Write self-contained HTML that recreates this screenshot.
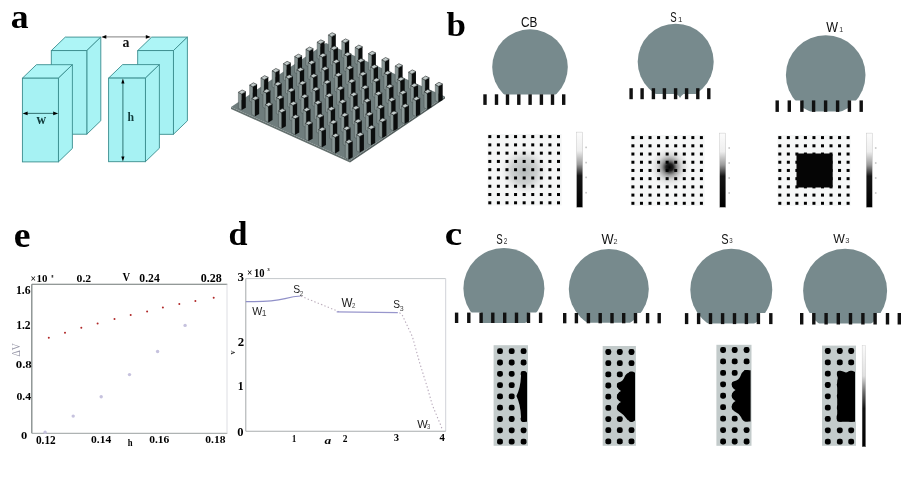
<!DOCTYPE html>
<html><head><meta charset="utf-8"><style>
html,body{margin:0;padding:0;background:#fff;}
svg{display:block;will-change:transform;}
</style></head><body>
<svg width="908" height="492" viewBox="0 0 908 492">
<rect width="908" height="492" fill="#fff"/>
<text transform="translate(10.78,27.99) scale(1.06,1)" font-family="'Liberation Serif', serif" font-size="33.68" font-weight="bold" font-style="normal" fill="#000">a</text>
<text transform="translate(446.46,36.28) scale(1.01,1)" font-family="'Liberation Serif', serif" font-size="34.57" font-weight="bold" font-style="normal" fill="#000">b</text>
<text transform="translate(444.82,245.48) scale(1.13,1)" font-family="'Liberation Serif', serif" font-size="34.74" font-weight="bold" font-style="normal" fill="#000">c</text>
<text transform="translate(228.40,244.59) scale(1.01,1)" font-family="'Liberation Serif', serif" font-size="33.86" font-weight="bold" font-style="normal" fill="#000">d</text>
<text transform="translate(13.72,246.58) scale(1.05,1)" font-family="'Liberation Serif', serif" font-size="36.00" font-weight="bold" font-style="normal" fill="#000">e</text>
<polygon points="51.3,50.6 65.3,37.1 100.8,37.1 86.8,50.6" fill="#adf5f6" stroke="#3a8c8d" stroke-width="0.9" stroke-linejoin="round"/>
<polygon points="86.8,50.6 100.8,37.1 100.8,120.7 86.8,134.2" fill="#a8f3f4" stroke="#3a8c8d" stroke-width="0.9" stroke-linejoin="round"/>
<rect x="51.3" y="50.6" width="35.5" height="83.6" fill="#a6f2f3" stroke="#3a8c8d" stroke-width="0.9"/>
<polygon points="137.7,50.6 151.7,37.1 187.4,37.1 173.4,50.6" fill="#adf5f6" stroke="#3a8c8d" stroke-width="0.9" stroke-linejoin="round"/>
<polygon points="173.4,50.6 187.4,37.1 187.4,120.8 173.4,134.3" fill="#a8f3f4" stroke="#3a8c8d" stroke-width="0.9" stroke-linejoin="round"/>
<rect x="137.7" y="50.6" width="35.7" height="83.7" fill="#a6f2f3" stroke="#3a8c8d" stroke-width="0.9"/>
<polygon points="22.4,78.2 36.4,64.7 72.4,64.7 58.4,78.2" fill="#adf5f6" stroke="#3a8c8d" stroke-width="0.9" stroke-linejoin="round"/>
<polygon points="58.4,78.2 72.4,64.7 72.4,148.4 58.4,161.9" fill="#a8f3f4" stroke="#3a8c8d" stroke-width="0.9" stroke-linejoin="round"/>
<rect x="22.4" y="78.2" width="36.0" height="83.7" fill="#a6f2f3" stroke="#3a8c8d" stroke-width="0.9"/>
<polygon points="108.6,78.1 122.6,64.6 159.4,64.6 145.4,78.1" fill="#adf5f6" stroke="#3a8c8d" stroke-width="0.9" stroke-linejoin="round"/>
<polygon points="145.4,78.1 159.4,64.6 159.4,148.2 145.4,161.7" fill="#a8f3f4" stroke="#3a8c8d" stroke-width="0.9" stroke-linejoin="round"/>
<rect x="108.6" y="78.1" width="36.8" height="83.6" fill="#a6f2f3" stroke="#3a8c8d" stroke-width="0.9"/>
<line x1="25.6" y1="113.4" x2="55.2" y2="113.4" stroke="#3a7a7a" stroke-width="1.1"/>
<polygon points="22.6,113.4 27.6,111.6 27.6,115.2" fill="#000"/>
<polygon points="58.2,113.4 53.2,111.6 53.2,115.2" fill="#000"/>
<line x1="104.3" y1="36.9" x2="147.8" y2="36.9" stroke="#9a9a9a" stroke-width="1.1"/>
<polygon points="101.3,36.9 106.3,35.1 106.3,38.7" fill="#000"/>
<polygon points="150.8,36.9 145.8,35.1 145.8,38.7" fill="#000"/>
<line x1="122.9" y1="81.6" x2="122.9" y2="158.4" stroke="#3a8080" stroke-width="1.1"/>
<polygon points="122.9,78.6 121.3,83.6 124.5,83.6" fill="#000"/>
<polygon points="122.9,161.4 121.3,156.4 124.5,156.4" fill="#000"/>
<text transform="translate(36.50,124.41) scale(0.96,1)" font-family="'Liberation Serif', serif" font-size="13.84" font-weight="bold" font-style="normal" fill="#123c3c">w</text>
<text transform="translate(122.47,47.30) scale(0.9,1)" font-family="'Liberation Serif', serif" font-size="15.37" font-weight="bold" font-style="normal" fill="#111">a</text>
<text transform="translate(127.51,120.90) scale(0.89,1)" font-family="'Liberation Serif', serif" font-size="13.26" font-weight="bold" font-style="normal" fill="#123c3c">h</text>
<polygon points="231.0,107.0 350.0,160.5 350.0,162.5 231.0,109.0" fill="#65716f"/>
<polygon points="350.0,160.5 445.0,96.5 445.0,98.5 350.0,162.5" fill="#55605f"/>
<polygon points="326.00,43.00 445.0,96.5 350.0,160.5 231.0,107.0" fill="#6f7d7d"/>
<polygon points="328.40,35.00 331.60,36.70 331.60,52.70 328.40,51.00" fill="#8a9796" stroke="#3a4443" stroke-width="0.4"/>
<polygon points="331.60,36.70 335.80,34.40 335.80,50.40 331.60,52.70" fill="#0b0d0d"/>
<polygon points="332.10,32.70 335.80,34.40 331.60,36.70 328.40,35.00" fill="#c3cccb" stroke="#1e2424" stroke-width="0.6"/>
<polygon points="317.15,42.16 320.35,43.86 320.35,59.86 317.15,58.16" fill="#8a9796" stroke="#3a4443" stroke-width="0.4"/>
<polygon points="320.35,43.86 324.55,41.56 324.55,57.56 320.35,59.86" fill="#0b0d0d"/>
<polygon points="320.85,39.86 324.55,41.56 320.35,43.86 317.15,42.16" fill="#c3cccb" stroke="#1e2424" stroke-width="0.6"/>
<polygon points="341.76,41.20 344.96,42.90 344.96,58.90 341.76,57.20" fill="#8a9796" stroke="#3a4443" stroke-width="0.4"/>
<polygon points="344.96,42.90 349.16,40.60 349.16,56.60 344.96,58.90" fill="#0b0d0d"/>
<polygon points="345.46,38.90 349.16,40.60 344.96,42.90 341.76,41.20" fill="#c3cccb" stroke="#1e2424" stroke-width="0.6"/>
<polygon points="305.90,49.32 309.10,51.02 309.10,67.02 305.90,65.32" fill="#8a9796" stroke="#3a4443" stroke-width="0.4"/>
<polygon points="309.10,51.02 313.30,48.72 313.30,64.72 309.10,67.02" fill="#0b0d0d"/>
<polygon points="309.60,47.02 313.30,48.72 309.10,51.02 305.90,49.32" fill="#c3cccb" stroke="#1e2424" stroke-width="0.6"/>
<polygon points="330.51,48.36 333.71,50.06 333.71,66.06 330.51,64.36" fill="#8a9796" stroke="#3a4443" stroke-width="0.4"/>
<polygon points="333.71,50.06 337.91,47.76 337.91,63.76 333.71,66.06" fill="#0b0d0d"/>
<polygon points="334.21,46.06 337.91,47.76 333.71,50.06 330.51,48.36" fill="#c3cccb" stroke="#1e2424" stroke-width="0.6"/>
<polygon points="355.12,47.40 358.32,49.10 358.32,65.10 355.12,63.40" fill="#8a9796" stroke="#3a4443" stroke-width="0.4"/>
<polygon points="358.32,49.10 362.52,46.80 362.52,62.80 358.32,65.10" fill="#0b0d0d"/>
<polygon points="358.82,45.10 362.52,46.80 358.32,49.10 355.12,47.40" fill="#c3cccb" stroke="#1e2424" stroke-width="0.6"/>
<polygon points="294.65,56.48 297.85,58.18 297.85,74.18 294.65,72.48" fill="#8a9796" stroke="#3a4443" stroke-width="0.4"/>
<polygon points="297.85,58.18 302.05,55.88 302.05,71.88 297.85,74.18" fill="#0b0d0d"/>
<polygon points="298.35,54.18 302.05,55.88 297.85,58.18 294.65,56.48" fill="#c3cccb" stroke="#1e2424" stroke-width="0.6"/>
<polygon points="319.26,55.52 322.46,57.22 322.46,73.22 319.26,71.52" fill="#8a9796" stroke="#3a4443" stroke-width="0.4"/>
<polygon points="322.46,57.22 326.66,54.92 326.66,70.92 322.46,73.22" fill="#0b0d0d"/>
<polygon points="322.96,53.22 326.66,54.92 322.46,57.22 319.26,55.52" fill="#c3cccb" stroke="#1e2424" stroke-width="0.6"/>
<polygon points="343.87,54.56 347.07,56.26 347.07,72.26 343.87,70.56" fill="#8a9796" stroke="#3a4443" stroke-width="0.4"/>
<polygon points="347.07,56.26 351.27,53.96 351.27,69.96 347.07,72.26" fill="#0b0d0d"/>
<polygon points="347.57,52.26 351.27,53.96 347.07,56.26 343.87,54.56" fill="#c3cccb" stroke="#1e2424" stroke-width="0.6"/>
<polygon points="368.48,53.60 371.68,55.30 371.68,71.30 368.48,69.60" fill="#8a9796" stroke="#3a4443" stroke-width="0.4"/>
<polygon points="371.68,55.30 375.88,53.00 375.88,69.00 371.68,71.30" fill="#0b0d0d"/>
<polygon points="372.18,51.30 375.88,53.00 371.68,55.30 368.48,53.60" fill="#c3cccb" stroke="#1e2424" stroke-width="0.6"/>
<polygon points="283.40,63.64 286.60,65.34 286.60,81.34 283.40,79.64" fill="#8a9796" stroke="#3a4443" stroke-width="0.4"/>
<polygon points="286.60,65.34 290.80,63.04 290.80,79.04 286.60,81.34" fill="#0b0d0d"/>
<polygon points="287.10,61.34 290.80,63.04 286.60,65.34 283.40,63.64" fill="#c3cccb" stroke="#1e2424" stroke-width="0.6"/>
<polygon points="308.01,62.68 311.21,64.38 311.21,80.38 308.01,78.68" fill="#8a9796" stroke="#3a4443" stroke-width="0.4"/>
<polygon points="311.21,64.38 315.41,62.08 315.41,78.08 311.21,80.38" fill="#0b0d0d"/>
<polygon points="311.71,60.38 315.41,62.08 311.21,64.38 308.01,62.68" fill="#c3cccb" stroke="#1e2424" stroke-width="0.6"/>
<polygon points="332.62,61.72 335.82,63.42 335.82,79.42 332.62,77.72" fill="#8a9796" stroke="#3a4443" stroke-width="0.4"/>
<polygon points="335.82,63.42 340.02,61.12 340.02,77.12 335.82,79.42" fill="#0b0d0d"/>
<polygon points="336.32,59.42 340.02,61.12 335.82,63.42 332.62,61.72" fill="#c3cccb" stroke="#1e2424" stroke-width="0.6"/>
<polygon points="357.23,60.76 360.43,62.46 360.43,78.46 357.23,76.76" fill="#8a9796" stroke="#3a4443" stroke-width="0.4"/>
<polygon points="360.43,62.46 364.63,60.16 364.63,76.16 360.43,78.46" fill="#0b0d0d"/>
<polygon points="360.93,58.46 364.63,60.16 360.43,62.46 357.23,60.76" fill="#c3cccb" stroke="#1e2424" stroke-width="0.6"/>
<polygon points="381.84,59.80 385.04,61.50 385.04,77.50 381.84,75.80" fill="#8a9796" stroke="#3a4443" stroke-width="0.4"/>
<polygon points="385.04,61.50 389.24,59.20 389.24,75.20 385.04,77.50" fill="#0b0d0d"/>
<polygon points="385.54,57.50 389.24,59.20 385.04,61.50 381.84,59.80" fill="#c3cccb" stroke="#1e2424" stroke-width="0.6"/>
<polygon points="272.15,70.80 275.35,72.50 275.35,88.50 272.15,86.80" fill="#8a9796" stroke="#3a4443" stroke-width="0.4"/>
<polygon points="275.35,72.50 279.55,70.20 279.55,86.20 275.35,88.50" fill="#0b0d0d"/>
<polygon points="275.85,68.50 279.55,70.20 275.35,72.50 272.15,70.80" fill="#c3cccb" stroke="#1e2424" stroke-width="0.6"/>
<polygon points="296.76,69.84 299.96,71.54 299.96,87.54 296.76,85.84" fill="#8a9796" stroke="#3a4443" stroke-width="0.4"/>
<polygon points="299.96,71.54 304.16,69.24 304.16,85.24 299.96,87.54" fill="#0b0d0d"/>
<polygon points="300.46,67.54 304.16,69.24 299.96,71.54 296.76,69.84" fill="#c3cccb" stroke="#1e2424" stroke-width="0.6"/>
<polygon points="321.37,68.88 324.57,70.58 324.57,86.58 321.37,84.88" fill="#8a9796" stroke="#3a4443" stroke-width="0.4"/>
<polygon points="324.57,70.58 328.77,68.28 328.77,84.28 324.57,86.58" fill="#0b0d0d"/>
<polygon points="325.07,66.58 328.77,68.28 324.57,70.58 321.37,68.88" fill="#c3cccb" stroke="#1e2424" stroke-width="0.6"/>
<polygon points="345.98,67.92 349.18,69.62 349.18,85.62 345.98,83.92" fill="#8a9796" stroke="#3a4443" stroke-width="0.4"/>
<polygon points="349.18,69.62 353.38,67.32 353.38,83.32 349.18,85.62" fill="#0b0d0d"/>
<polygon points="349.68,65.62 353.38,67.32 349.18,69.62 345.98,67.92" fill="#c3cccb" stroke="#1e2424" stroke-width="0.6"/>
<polygon points="370.59,66.96 373.79,68.66 373.79,84.66 370.59,82.96" fill="#8a9796" stroke="#3a4443" stroke-width="0.4"/>
<polygon points="373.79,68.66 377.99,66.36 377.99,82.36 373.79,84.66" fill="#0b0d0d"/>
<polygon points="374.29,64.66 377.99,66.36 373.79,68.66 370.59,66.96" fill="#c3cccb" stroke="#1e2424" stroke-width="0.6"/>
<polygon points="395.20,66.00 398.40,67.70 398.40,83.70 395.20,82.00" fill="#8a9796" stroke="#3a4443" stroke-width="0.4"/>
<polygon points="398.40,67.70 402.60,65.40 402.60,81.40 398.40,83.70" fill="#0b0d0d"/>
<polygon points="398.90,63.70 402.60,65.40 398.40,67.70 395.20,66.00" fill="#c3cccb" stroke="#1e2424" stroke-width="0.6"/>
<polygon points="260.90,77.96 264.10,79.66 264.10,95.66 260.90,93.96" fill="#8a9796" stroke="#3a4443" stroke-width="0.4"/>
<polygon points="264.10,79.66 268.30,77.36 268.30,93.36 264.10,95.66" fill="#0b0d0d"/>
<polygon points="264.60,75.66 268.30,77.36 264.10,79.66 260.90,77.96" fill="#c3cccb" stroke="#1e2424" stroke-width="0.6"/>
<polygon points="285.51,77.00 288.71,78.70 288.71,94.70 285.51,93.00" fill="#8a9796" stroke="#3a4443" stroke-width="0.4"/>
<polygon points="288.71,78.70 292.91,76.40 292.91,92.40 288.71,94.70" fill="#0b0d0d"/>
<polygon points="289.21,74.70 292.91,76.40 288.71,78.70 285.51,77.00" fill="#c3cccb" stroke="#1e2424" stroke-width="0.6"/>
<polygon points="310.12,76.04 313.32,77.74 313.32,93.74 310.12,92.04" fill="#8a9796" stroke="#3a4443" stroke-width="0.4"/>
<polygon points="313.32,77.74 317.52,75.44 317.52,91.44 313.32,93.74" fill="#0b0d0d"/>
<polygon points="313.82,73.74 317.52,75.44 313.32,77.74 310.12,76.04" fill="#c3cccb" stroke="#1e2424" stroke-width="0.6"/>
<polygon points="334.73,75.08 337.93,76.78 337.93,92.78 334.73,91.08" fill="#8a9796" stroke="#3a4443" stroke-width="0.4"/>
<polygon points="337.93,76.78 342.13,74.48 342.13,90.48 337.93,92.78" fill="#0b0d0d"/>
<polygon points="338.43,72.78 342.13,74.48 337.93,76.78 334.73,75.08" fill="#c3cccb" stroke="#1e2424" stroke-width="0.6"/>
<polygon points="359.34,74.12 362.54,75.82 362.54,91.82 359.34,90.12" fill="#8a9796" stroke="#3a4443" stroke-width="0.4"/>
<polygon points="362.54,75.82 366.74,73.52 366.74,89.52 362.54,91.82" fill="#0b0d0d"/>
<polygon points="363.04,71.82 366.74,73.52 362.54,75.82 359.34,74.12" fill="#c3cccb" stroke="#1e2424" stroke-width="0.6"/>
<polygon points="383.95,73.16 387.15,74.86 387.15,90.86 383.95,89.16" fill="#8a9796" stroke="#3a4443" stroke-width="0.4"/>
<polygon points="387.15,74.86 391.35,72.56 391.35,88.56 387.15,90.86" fill="#0b0d0d"/>
<polygon points="387.65,70.86 391.35,72.56 387.15,74.86 383.95,73.16" fill="#c3cccb" stroke="#1e2424" stroke-width="0.6"/>
<polygon points="408.56,72.20 411.76,73.90 411.76,89.90 408.56,88.20" fill="#8a9796" stroke="#3a4443" stroke-width="0.4"/>
<polygon points="411.76,73.90 415.96,71.60 415.96,87.60 411.76,89.90" fill="#0b0d0d"/>
<polygon points="412.26,69.90 415.96,71.60 411.76,73.90 408.56,72.20" fill="#c3cccb" stroke="#1e2424" stroke-width="0.6"/>
<polygon points="249.65,85.12 252.85,86.82 252.85,102.82 249.65,101.12" fill="#8a9796" stroke="#3a4443" stroke-width="0.4"/>
<polygon points="252.85,86.82 257.05,84.52 257.05,100.52 252.85,102.82" fill="#0b0d0d"/>
<polygon points="253.35,82.82 257.05,84.52 252.85,86.82 249.65,85.12" fill="#c3cccb" stroke="#1e2424" stroke-width="0.6"/>
<polygon points="274.26,84.16 277.46,85.86 277.46,101.86 274.26,100.16" fill="#8a9796" stroke="#3a4443" stroke-width="0.4"/>
<polygon points="277.46,85.86 281.66,83.56 281.66,99.56 277.46,101.86" fill="#0b0d0d"/>
<polygon points="277.96,81.86 281.66,83.56 277.46,85.86 274.26,84.16" fill="#c3cccb" stroke="#1e2424" stroke-width="0.6"/>
<polygon points="298.87,83.20 302.07,84.90 302.07,100.90 298.87,99.20" fill="#8a9796" stroke="#3a4443" stroke-width="0.4"/>
<polygon points="302.07,84.90 306.27,82.60 306.27,98.60 302.07,100.90" fill="#0b0d0d"/>
<polygon points="302.57,80.90 306.27,82.60 302.07,84.90 298.87,83.20" fill="#c3cccb" stroke="#1e2424" stroke-width="0.6"/>
<polygon points="323.48,82.24 326.68,83.94 326.68,99.94 323.48,98.24" fill="#8a9796" stroke="#3a4443" stroke-width="0.4"/>
<polygon points="326.68,83.94 330.88,81.64 330.88,97.64 326.68,99.94" fill="#0b0d0d"/>
<polygon points="327.18,79.94 330.88,81.64 326.68,83.94 323.48,82.24" fill="#c3cccb" stroke="#1e2424" stroke-width="0.6"/>
<polygon points="348.09,81.28 351.29,82.98 351.29,98.98 348.09,97.28" fill="#8a9796" stroke="#3a4443" stroke-width="0.4"/>
<polygon points="351.29,82.98 355.49,80.68 355.49,96.68 351.29,98.98" fill="#0b0d0d"/>
<polygon points="351.79,78.98 355.49,80.68 351.29,82.98 348.09,81.28" fill="#c3cccb" stroke="#1e2424" stroke-width="0.6"/>
<polygon points="372.70,80.32 375.90,82.02 375.90,98.02 372.70,96.32" fill="#8a9796" stroke="#3a4443" stroke-width="0.4"/>
<polygon points="375.90,82.02 380.10,79.72 380.10,95.72 375.90,98.02" fill="#0b0d0d"/>
<polygon points="376.40,78.02 380.10,79.72 375.90,82.02 372.70,80.32" fill="#c3cccb" stroke="#1e2424" stroke-width="0.6"/>
<polygon points="397.31,79.36 400.51,81.06 400.51,97.06 397.31,95.36" fill="#8a9796" stroke="#3a4443" stroke-width="0.4"/>
<polygon points="400.51,81.06 404.71,78.76 404.71,94.76 400.51,97.06" fill="#0b0d0d"/>
<polygon points="401.01,77.06 404.71,78.76 400.51,81.06 397.31,79.36" fill="#c3cccb" stroke="#1e2424" stroke-width="0.6"/>
<polygon points="421.92,78.40 425.12,80.10 425.12,96.10 421.92,94.40" fill="#8a9796" stroke="#3a4443" stroke-width="0.4"/>
<polygon points="425.12,80.10 429.32,77.80 429.32,93.80 425.12,96.10" fill="#0b0d0d"/>
<polygon points="425.62,76.10 429.32,77.80 425.12,80.10 421.92,78.40" fill="#c3cccb" stroke="#1e2424" stroke-width="0.6"/>
<polygon points="238.40,92.28 241.60,93.98 241.60,109.98 238.40,108.28" fill="#8a9796" stroke="#3a4443" stroke-width="0.4"/>
<polygon points="241.60,93.98 245.80,91.68 245.80,107.68 241.60,109.98" fill="#0b0d0d"/>
<polygon points="242.10,89.98 245.80,91.68 241.60,93.98 238.40,92.28" fill="#c3cccb" stroke="#1e2424" stroke-width="0.6"/>
<polygon points="263.01,91.32 266.21,93.02 266.21,109.02 263.01,107.32" fill="#8a9796" stroke="#3a4443" stroke-width="0.4"/>
<polygon points="266.21,93.02 270.41,90.72 270.41,106.72 266.21,109.02" fill="#0b0d0d"/>
<polygon points="266.71,89.02 270.41,90.72 266.21,93.02 263.01,91.32" fill="#c3cccb" stroke="#1e2424" stroke-width="0.6"/>
<polygon points="287.62,90.36 290.82,92.06 290.82,108.06 287.62,106.36" fill="#8a9796" stroke="#3a4443" stroke-width="0.4"/>
<polygon points="290.82,92.06 295.02,89.76 295.02,105.76 290.82,108.06" fill="#0b0d0d"/>
<polygon points="291.32,88.06 295.02,89.76 290.82,92.06 287.62,90.36" fill="#c3cccb" stroke="#1e2424" stroke-width="0.6"/>
<polygon points="312.23,89.40 315.43,91.10 315.43,107.10 312.23,105.40" fill="#8a9796" stroke="#3a4443" stroke-width="0.4"/>
<polygon points="315.43,91.10 319.63,88.80 319.63,104.80 315.43,107.10" fill="#0b0d0d"/>
<polygon points="315.93,87.10 319.63,88.80 315.43,91.10 312.23,89.40" fill="#c3cccb" stroke="#1e2424" stroke-width="0.6"/>
<polygon points="336.84,88.44 340.04,90.14 340.04,106.14 336.84,104.44" fill="#8a9796" stroke="#3a4443" stroke-width="0.4"/>
<polygon points="340.04,90.14 344.24,87.84 344.24,103.84 340.04,106.14" fill="#0b0d0d"/>
<polygon points="340.54,86.14 344.24,87.84 340.04,90.14 336.84,88.44" fill="#c3cccb" stroke="#1e2424" stroke-width="0.6"/>
<polygon points="361.45,87.48 364.65,89.18 364.65,105.18 361.45,103.48" fill="#8a9796" stroke="#3a4443" stroke-width="0.4"/>
<polygon points="364.65,89.18 368.85,86.88 368.85,102.88 364.65,105.18" fill="#0b0d0d"/>
<polygon points="365.15,85.18 368.85,86.88 364.65,89.18 361.45,87.48" fill="#c3cccb" stroke="#1e2424" stroke-width="0.6"/>
<polygon points="386.06,86.52 389.26,88.22 389.26,104.22 386.06,102.52" fill="#8a9796" stroke="#3a4443" stroke-width="0.4"/>
<polygon points="389.26,88.22 393.46,85.92 393.46,101.92 389.26,104.22" fill="#0b0d0d"/>
<polygon points="389.76,84.22 393.46,85.92 389.26,88.22 386.06,86.52" fill="#c3cccb" stroke="#1e2424" stroke-width="0.6"/>
<polygon points="410.67,85.56 413.87,87.26 413.87,103.26 410.67,101.56" fill="#8a9796" stroke="#3a4443" stroke-width="0.4"/>
<polygon points="413.87,87.26 418.07,84.96 418.07,100.96 413.87,103.26" fill="#0b0d0d"/>
<polygon points="414.37,83.26 418.07,84.96 413.87,87.26 410.67,85.56" fill="#c3cccb" stroke="#1e2424" stroke-width="0.6"/>
<polygon points="435.28,84.60 438.48,86.30 438.48,102.30 435.28,100.60" fill="#8a9796" stroke="#3a4443" stroke-width="0.4"/>
<polygon points="438.48,86.30 442.68,84.00 442.68,100.00 438.48,102.30" fill="#0b0d0d"/>
<polygon points="438.98,82.30 442.68,84.00 438.48,86.30 435.28,84.60" fill="#c3cccb" stroke="#1e2424" stroke-width="0.6"/>
<polygon points="251.76,98.48 254.96,100.18 254.96,116.18 251.76,114.48" fill="#8a9796" stroke="#3a4443" stroke-width="0.4"/>
<polygon points="254.96,100.18 259.16,97.88 259.16,113.88 254.96,116.18" fill="#0b0d0d"/>
<polygon points="255.46,96.18 259.16,97.88 254.96,100.18 251.76,98.48" fill="#c3cccb" stroke="#1e2424" stroke-width="0.6"/>
<polygon points="276.37,97.52 279.57,99.22 279.57,115.22 276.37,113.52" fill="#8a9796" stroke="#3a4443" stroke-width="0.4"/>
<polygon points="279.57,99.22 283.77,96.92 283.77,112.92 279.57,115.22" fill="#0b0d0d"/>
<polygon points="280.07,95.22 283.77,96.92 279.57,99.22 276.37,97.52" fill="#c3cccb" stroke="#1e2424" stroke-width="0.6"/>
<polygon points="300.98,96.56 304.18,98.26 304.18,114.26 300.98,112.56" fill="#8a9796" stroke="#3a4443" stroke-width="0.4"/>
<polygon points="304.18,98.26 308.38,95.96 308.38,111.96 304.18,114.26" fill="#0b0d0d"/>
<polygon points="304.68,94.26 308.38,95.96 304.18,98.26 300.98,96.56" fill="#c3cccb" stroke="#1e2424" stroke-width="0.6"/>
<polygon points="325.59,95.60 328.79,97.30 328.79,113.30 325.59,111.60" fill="#8a9796" stroke="#3a4443" stroke-width="0.4"/>
<polygon points="328.79,97.30 332.99,95.00 332.99,111.00 328.79,113.30" fill="#0b0d0d"/>
<polygon points="329.29,93.30 332.99,95.00 328.79,97.30 325.59,95.60" fill="#c3cccb" stroke="#1e2424" stroke-width="0.6"/>
<polygon points="350.20,94.64 353.40,96.34 353.40,112.34 350.20,110.64" fill="#8a9796" stroke="#3a4443" stroke-width="0.4"/>
<polygon points="353.40,96.34 357.60,94.04 357.60,110.04 353.40,112.34" fill="#0b0d0d"/>
<polygon points="353.90,92.34 357.60,94.04 353.40,96.34 350.20,94.64" fill="#c3cccb" stroke="#1e2424" stroke-width="0.6"/>
<polygon points="374.81,93.68 378.01,95.38 378.01,111.38 374.81,109.68" fill="#8a9796" stroke="#3a4443" stroke-width="0.4"/>
<polygon points="378.01,95.38 382.21,93.08 382.21,109.08 378.01,111.38" fill="#0b0d0d"/>
<polygon points="378.51,91.38 382.21,93.08 378.01,95.38 374.81,93.68" fill="#c3cccb" stroke="#1e2424" stroke-width="0.6"/>
<polygon points="399.42,92.72 402.62,94.42 402.62,110.42 399.42,108.72" fill="#8a9796" stroke="#3a4443" stroke-width="0.4"/>
<polygon points="402.62,94.42 406.82,92.12 406.82,108.12 402.62,110.42" fill="#0b0d0d"/>
<polygon points="403.12,90.42 406.82,92.12 402.62,94.42 399.42,92.72" fill="#c3cccb" stroke="#1e2424" stroke-width="0.6"/>
<polygon points="424.03,91.76 427.23,93.46 427.23,109.46 424.03,107.76" fill="#8a9796" stroke="#3a4443" stroke-width="0.4"/>
<polygon points="427.23,93.46 431.43,91.16 431.43,107.16 427.23,109.46" fill="#0b0d0d"/>
<polygon points="427.73,89.46 431.43,91.16 427.23,93.46 424.03,91.76" fill="#c3cccb" stroke="#1e2424" stroke-width="0.6"/>
<polygon points="265.12,104.68 268.32,106.38 268.32,122.38 265.12,120.68" fill="#8a9796" stroke="#3a4443" stroke-width="0.4"/>
<polygon points="268.32,106.38 272.52,104.08 272.52,120.08 268.32,122.38" fill="#0b0d0d"/>
<polygon points="268.82,102.38 272.52,104.08 268.32,106.38 265.12,104.68" fill="#c3cccb" stroke="#1e2424" stroke-width="0.6"/>
<polygon points="289.73,103.72 292.93,105.42 292.93,121.42 289.73,119.72" fill="#8a9796" stroke="#3a4443" stroke-width="0.4"/>
<polygon points="292.93,105.42 297.13,103.12 297.13,119.12 292.93,121.42" fill="#0b0d0d"/>
<polygon points="293.43,101.42 297.13,103.12 292.93,105.42 289.73,103.72" fill="#c3cccb" stroke="#1e2424" stroke-width="0.6"/>
<polygon points="314.34,102.76 317.54,104.46 317.54,120.46 314.34,118.76" fill="#8a9796" stroke="#3a4443" stroke-width="0.4"/>
<polygon points="317.54,104.46 321.74,102.16 321.74,118.16 317.54,120.46" fill="#0b0d0d"/>
<polygon points="318.04,100.46 321.74,102.16 317.54,104.46 314.34,102.76" fill="#c3cccb" stroke="#1e2424" stroke-width="0.6"/>
<polygon points="338.95,101.80 342.15,103.50 342.15,119.50 338.95,117.80" fill="#8a9796" stroke="#3a4443" stroke-width="0.4"/>
<polygon points="342.15,103.50 346.35,101.20 346.35,117.20 342.15,119.50" fill="#0b0d0d"/>
<polygon points="342.65,99.50 346.35,101.20 342.15,103.50 338.95,101.80" fill="#c3cccb" stroke="#1e2424" stroke-width="0.6"/>
<polygon points="363.56,100.84 366.76,102.54 366.76,118.54 363.56,116.84" fill="#8a9796" stroke="#3a4443" stroke-width="0.4"/>
<polygon points="366.76,102.54 370.96,100.24 370.96,116.24 366.76,118.54" fill="#0b0d0d"/>
<polygon points="367.26,98.54 370.96,100.24 366.76,102.54 363.56,100.84" fill="#c3cccb" stroke="#1e2424" stroke-width="0.6"/>
<polygon points="388.17,99.88 391.37,101.58 391.37,117.58 388.17,115.88" fill="#8a9796" stroke="#3a4443" stroke-width="0.4"/>
<polygon points="391.37,101.58 395.57,99.28 395.57,115.28 391.37,117.58" fill="#0b0d0d"/>
<polygon points="391.87,97.58 395.57,99.28 391.37,101.58 388.17,99.88" fill="#c3cccb" stroke="#1e2424" stroke-width="0.6"/>
<polygon points="412.78,98.92 415.98,100.62 415.98,116.62 412.78,114.92" fill="#8a9796" stroke="#3a4443" stroke-width="0.4"/>
<polygon points="415.98,100.62 420.18,98.32 420.18,114.32 415.98,116.62" fill="#0b0d0d"/>
<polygon points="416.48,96.62 420.18,98.32 415.98,100.62 412.78,98.92" fill="#c3cccb" stroke="#1e2424" stroke-width="0.6"/>
<polygon points="278.48,110.88 281.68,112.58 281.68,128.58 278.48,126.88" fill="#8a9796" stroke="#3a4443" stroke-width="0.4"/>
<polygon points="281.68,112.58 285.88,110.28 285.88,126.28 281.68,128.58" fill="#0b0d0d"/>
<polygon points="282.18,108.58 285.88,110.28 281.68,112.58 278.48,110.88" fill="#c3cccb" stroke="#1e2424" stroke-width="0.6"/>
<polygon points="303.09,109.92 306.29,111.62 306.29,127.62 303.09,125.92" fill="#8a9796" stroke="#3a4443" stroke-width="0.4"/>
<polygon points="306.29,111.62 310.49,109.32 310.49,125.32 306.29,127.62" fill="#0b0d0d"/>
<polygon points="306.79,107.62 310.49,109.32 306.29,111.62 303.09,109.92" fill="#c3cccb" stroke="#1e2424" stroke-width="0.6"/>
<polygon points="327.70,108.96 330.90,110.66 330.90,126.66 327.70,124.96" fill="#8a9796" stroke="#3a4443" stroke-width="0.4"/>
<polygon points="330.90,110.66 335.10,108.36 335.10,124.36 330.90,126.66" fill="#0b0d0d"/>
<polygon points="331.40,106.66 335.10,108.36 330.90,110.66 327.70,108.96" fill="#c3cccb" stroke="#1e2424" stroke-width="0.6"/>
<polygon points="352.31,108.00 355.51,109.70 355.51,125.70 352.31,124.00" fill="#8a9796" stroke="#3a4443" stroke-width="0.4"/>
<polygon points="355.51,109.70 359.71,107.40 359.71,123.40 355.51,125.70" fill="#0b0d0d"/>
<polygon points="356.01,105.70 359.71,107.40 355.51,109.70 352.31,108.00" fill="#c3cccb" stroke="#1e2424" stroke-width="0.6"/>
<polygon points="376.92,107.04 380.12,108.74 380.12,124.74 376.92,123.04" fill="#8a9796" stroke="#3a4443" stroke-width="0.4"/>
<polygon points="380.12,108.74 384.32,106.44 384.32,122.44 380.12,124.74" fill="#0b0d0d"/>
<polygon points="380.62,104.74 384.32,106.44 380.12,108.74 376.92,107.04" fill="#c3cccb" stroke="#1e2424" stroke-width="0.6"/>
<polygon points="401.53,106.08 404.73,107.78 404.73,123.78 401.53,122.08" fill="#8a9796" stroke="#3a4443" stroke-width="0.4"/>
<polygon points="404.73,107.78 408.93,105.48 408.93,121.48 404.73,123.78" fill="#0b0d0d"/>
<polygon points="405.23,103.78 408.93,105.48 404.73,107.78 401.53,106.08" fill="#c3cccb" stroke="#1e2424" stroke-width="0.6"/>
<polygon points="291.84,117.08 295.04,118.78 295.04,134.78 291.84,133.08" fill="#8a9796" stroke="#3a4443" stroke-width="0.4"/>
<polygon points="295.04,118.78 299.24,116.48 299.24,132.48 295.04,134.78" fill="#0b0d0d"/>
<polygon points="295.54,114.78 299.24,116.48 295.04,118.78 291.84,117.08" fill="#c3cccb" stroke="#1e2424" stroke-width="0.6"/>
<polygon points="316.45,116.12 319.65,117.82 319.65,133.82 316.45,132.12" fill="#8a9796" stroke="#3a4443" stroke-width="0.4"/>
<polygon points="319.65,117.82 323.85,115.52 323.85,131.52 319.65,133.82" fill="#0b0d0d"/>
<polygon points="320.15,113.82 323.85,115.52 319.65,117.82 316.45,116.12" fill="#c3cccb" stroke="#1e2424" stroke-width="0.6"/>
<polygon points="341.06,115.16 344.26,116.86 344.26,132.86 341.06,131.16" fill="#8a9796" stroke="#3a4443" stroke-width="0.4"/>
<polygon points="344.26,116.86 348.46,114.56 348.46,130.56 344.26,132.86" fill="#0b0d0d"/>
<polygon points="344.76,112.86 348.46,114.56 344.26,116.86 341.06,115.16" fill="#c3cccb" stroke="#1e2424" stroke-width="0.6"/>
<polygon points="365.67,114.20 368.87,115.90 368.87,131.90 365.67,130.20" fill="#8a9796" stroke="#3a4443" stroke-width="0.4"/>
<polygon points="368.87,115.90 373.07,113.60 373.07,129.60 368.87,131.90" fill="#0b0d0d"/>
<polygon points="369.37,111.90 373.07,113.60 368.87,115.90 365.67,114.20" fill="#c3cccb" stroke="#1e2424" stroke-width="0.6"/>
<polygon points="390.28,113.24 393.48,114.94 393.48,130.94 390.28,129.24" fill="#8a9796" stroke="#3a4443" stroke-width="0.4"/>
<polygon points="393.48,114.94 397.68,112.64 397.68,128.64 393.48,130.94" fill="#0b0d0d"/>
<polygon points="393.98,110.94 397.68,112.64 393.48,114.94 390.28,113.24" fill="#c3cccb" stroke="#1e2424" stroke-width="0.6"/>
<polygon points="305.20,123.28 308.40,124.98 308.40,140.98 305.20,139.28" fill="#8a9796" stroke="#3a4443" stroke-width="0.4"/>
<polygon points="308.40,124.98 312.60,122.68 312.60,138.68 308.40,140.98" fill="#0b0d0d"/>
<polygon points="308.90,120.98 312.60,122.68 308.40,124.98 305.20,123.28" fill="#c3cccb" stroke="#1e2424" stroke-width="0.6"/>
<polygon points="329.81,122.32 333.01,124.02 333.01,140.02 329.81,138.32" fill="#8a9796" stroke="#3a4443" stroke-width="0.4"/>
<polygon points="333.01,124.02 337.21,121.72 337.21,137.72 333.01,140.02" fill="#0b0d0d"/>
<polygon points="333.51,120.02 337.21,121.72 333.01,124.02 329.81,122.32" fill="#c3cccb" stroke="#1e2424" stroke-width="0.6"/>
<polygon points="354.42,121.36 357.62,123.06 357.62,139.06 354.42,137.36" fill="#8a9796" stroke="#3a4443" stroke-width="0.4"/>
<polygon points="357.62,123.06 361.82,120.76 361.82,136.76 357.62,139.06" fill="#0b0d0d"/>
<polygon points="358.12,119.06 361.82,120.76 357.62,123.06 354.42,121.36" fill="#c3cccb" stroke="#1e2424" stroke-width="0.6"/>
<polygon points="379.03,120.40 382.23,122.10 382.23,138.10 379.03,136.40" fill="#8a9796" stroke="#3a4443" stroke-width="0.4"/>
<polygon points="382.23,122.10 386.43,119.80 386.43,135.80 382.23,138.10" fill="#0b0d0d"/>
<polygon points="382.73,118.10 386.43,119.80 382.23,122.10 379.03,120.40" fill="#c3cccb" stroke="#1e2424" stroke-width="0.6"/>
<polygon points="318.56,129.48 321.76,131.18 321.76,147.18 318.56,145.48" fill="#8a9796" stroke="#3a4443" stroke-width="0.4"/>
<polygon points="321.76,131.18 325.96,128.88 325.96,144.88 321.76,147.18" fill="#0b0d0d"/>
<polygon points="322.26,127.18 325.96,128.88 321.76,131.18 318.56,129.48" fill="#c3cccb" stroke="#1e2424" stroke-width="0.6"/>
<polygon points="343.17,128.52 346.37,130.22 346.37,146.22 343.17,144.52" fill="#8a9796" stroke="#3a4443" stroke-width="0.4"/>
<polygon points="346.37,130.22 350.57,127.92 350.57,143.92 346.37,146.22" fill="#0b0d0d"/>
<polygon points="346.87,126.22 350.57,127.92 346.37,130.22 343.17,128.52" fill="#c3cccb" stroke="#1e2424" stroke-width="0.6"/>
<polygon points="367.78,127.56 370.98,129.26 370.98,145.26 367.78,143.56" fill="#8a9796" stroke="#3a4443" stroke-width="0.4"/>
<polygon points="370.98,129.26 375.18,126.96 375.18,142.96 370.98,145.26" fill="#0b0d0d"/>
<polygon points="371.48,125.26 375.18,126.96 370.98,129.26 367.78,127.56" fill="#c3cccb" stroke="#1e2424" stroke-width="0.6"/>
<polygon points="331.92,135.68 335.12,137.38 335.12,153.38 331.92,151.68" fill="#8a9796" stroke="#3a4443" stroke-width="0.4"/>
<polygon points="335.12,137.38 339.32,135.08 339.32,151.08 335.12,153.38" fill="#0b0d0d"/>
<polygon points="335.62,133.38 339.32,135.08 335.12,137.38 331.92,135.68" fill="#c3cccb" stroke="#1e2424" stroke-width="0.6"/>
<polygon points="356.53,134.72 359.73,136.42 359.73,152.42 356.53,150.72" fill="#8a9796" stroke="#3a4443" stroke-width="0.4"/>
<polygon points="359.73,136.42 363.93,134.12 363.93,150.12 359.73,152.42" fill="#0b0d0d"/>
<polygon points="360.23,132.42 363.93,134.12 359.73,136.42 356.53,134.72" fill="#c3cccb" stroke="#1e2424" stroke-width="0.6"/>
<polygon points="345.28,141.88 348.48,143.58 348.48,159.58 345.28,157.88" fill="#8a9796" stroke="#3a4443" stroke-width="0.4"/>
<polygon points="348.48,143.58 352.68,141.28 352.68,157.28 348.48,159.58" fill="#0b0d0d"/>
<polygon points="348.98,139.58 352.68,141.28 348.48,143.58 345.28,141.88" fill="#c3cccb" stroke="#1e2424" stroke-width="0.6"/>
<text transform="translate(520.91,26.71) scale(0.81,1)" font-family="'Liberation Sans', sans-serif" font-size="14.58" font-weight="normal" font-style="normal" fill="#111">CB</text>
<text transform="translate(670.22,21.91) scale(0.7,1)" font-family="'Liberation Sans', sans-serif" font-size="13.73" font-weight="normal" font-style="normal" fill="#111">S</text>
<text transform="translate(678.10,21.60)" font-family="'Liberation Sans', sans-serif" font-size="8.00" font-weight="normal" font-style="normal" fill="#333">1</text>
<text transform="translate(826.22,32.00) scale(0.85,1)" font-family="'Liberation Sans', sans-serif" font-size="14.69" font-weight="normal" font-style="normal" fill="#111">W</text>
<text transform="translate(839.37,31.60)" font-family="'Liberation Sans', sans-serif" font-size="7.13" font-weight="normal" font-style="normal" fill="#333">1</text>
<text transform="translate(496.22,243.51) scale(0.69,1)" font-family="'Liberation Sans', sans-serif" font-size="14.02" font-weight="normal" font-style="normal" fill="#111">S</text>
<text transform="translate(503.68,243.60) scale(0.77,1)" font-family="'Liberation Sans', sans-serif" font-size="8.29" font-weight="normal" font-style="normal" fill="#333">2</text>
<text transform="translate(601.62,243.90) scale(0.9,1)" font-family="'Liberation Sans', sans-serif" font-size="14.25" font-weight="normal" font-style="normal" fill="#111">W</text>
<text transform="translate(613.54,244.00) scale(0.94,1)" font-family="'Liberation Sans', sans-serif" font-size="7.71" font-weight="normal" font-style="normal" fill="#333">2</text>
<text transform="translate(721.35,243.81) scale(0.78,1)" font-family="'Liberation Sans', sans-serif" font-size="14.16" font-weight="normal" font-style="normal" fill="#111">S</text>
<text transform="translate(729.37,243.35) scale(0.83,1)" font-family="'Liberation Sans', sans-serif" font-size="7.36" font-weight="normal" font-style="normal" fill="#333">3</text>
<text transform="translate(833.22,243.00) scale(0.95,1)" font-family="'Liberation Sans', sans-serif" font-size="12.95" font-weight="normal" font-style="normal" fill="#111">W</text>
<text transform="translate(845.22,243.35) scale(1.03,1)" font-family="'Liberation Sans', sans-serif" font-size="7.36" font-weight="normal" font-style="normal" fill="#333">3</text>
<clipPath id="clip288"><rect x="0" y="0" width="908" height="94.5"/></clipPath>
<circle cx="530.0" cy="67.1" r="37.8" fill="#778a8d" clip-path="url(#clip288)"/>
<rect x="483.30" y="94.3" width="3.4" height="10.6" fill="#111"/>
<rect x="494.80" y="94.3" width="3.4" height="10.6" fill="#111"/>
<rect x="505.80" y="94.3" width="3.4" height="10.6" fill="#111"/>
<rect x="517.10" y="94.3" width="3.4" height="10.6" fill="#111"/>
<rect x="528.40" y="94.3" width="3.4" height="10.6" fill="#111"/>
<rect x="539.70" y="94.3" width="3.4" height="10.6" fill="#111"/>
<rect x="550.80" y="94.3" width="3.4" height="10.6" fill="#111"/>
<rect x="562.00" y="94.3" width="3.4" height="10.6" fill="#111"/>
<clipPath id="clip298"><rect x="0" y="0" width="908" height="94.0"/></clipPath>
<circle cx="675.7" cy="61.7" r="38.0" fill="#778a8d" clip-path="url(#clip298)"/>
<path d="M671,92.5 Q678.5,93.8 680,98 Q682,94 688,91.5 Z" fill="#778a8d"/>
<rect x="629.40" y="88.2" width="3.4" height="11.0" fill="#111"/>
<rect x="640.40" y="88.2" width="3.4" height="11.0" fill="#111"/>
<rect x="651.70" y="88.2" width="3.4" height="11.0" fill="#111"/>
<rect x="662.70" y="88.2" width="3.4" height="11.0" fill="#111"/>
<rect x="673.90" y="88.2" width="3.4" height="11.0" fill="#111"/>
<rect x="684.90" y="88.2" width="3.4" height="11.0" fill="#111"/>
<rect x="696.10" y="88.2" width="3.4" height="11.0" fill="#111"/>
<rect x="707.10" y="88.2" width="3.4" height="11.0" fill="#111"/>
<clipPath id="clip309"><rect x="0" y="0" width="908" height="100.5"/><rect x="801.9" y="100.0" width="47.5" height="11.5"/></clipPath>
<circle cx="825.7" cy="75.1" r="39.8" fill="#778a8d" clip-path="url(#clip309)"/>
<rect x="775.50" y="100.4" width="3.4" height="11.5" fill="#111"/>
<rect x="787.60" y="100.4" width="3.4" height="11.5" fill="#111"/>
<rect x="800.20" y="100.4" width="3.4" height="11.5" fill="#111"/>
<rect x="811.90" y="100.4" width="3.4" height="11.5" fill="#111"/>
<rect x="823.90" y="100.4" width="3.4" height="11.5" fill="#111"/>
<rect x="835.90" y="100.4" width="3.4" height="11.5" fill="#111"/>
<rect x="847.70" y="100.4" width="3.4" height="11.5" fill="#111"/>
<rect x="859.50" y="100.4" width="3.4" height="11.5" fill="#111"/>
<clipPath id="clip319"><rect x="0" y="0" width="908" height="312.5"/><rect x="481.1" y="312.0" width="47.4" height="11.0"/></clipPath>
<circle cx="503.9" cy="288.5" r="40.5" fill="#778a8d" clip-path="url(#clip319)"/>
<rect x="454.90" y="312.6" width="3.4" height="10.4" fill="#111"/>
<rect x="467.10" y="312.6" width="3.4" height="10.4" fill="#111"/>
<rect x="479.40" y="312.6" width="3.4" height="10.4" fill="#111"/>
<rect x="491.10" y="312.6" width="3.4" height="10.4" fill="#111"/>
<rect x="503.00" y="312.6" width="3.4" height="10.4" fill="#111"/>
<rect x="514.80" y="312.6" width="3.4" height="10.4" fill="#111"/>
<rect x="526.80" y="312.6" width="3.4" height="10.4" fill="#111"/>
<rect x="538.90" y="312.6" width="3.4" height="10.4" fill="#111"/>
<clipPath id="clip329"><rect x="0" y="0" width="908" height="313.0"/><rect x="570" y="312.5" width="65.5" height="10.2"/></clipPath>
<circle cx="608.8" cy="289.0" r="40.0" fill="#778a8d" clip-path="url(#clip329)"/>
<rect x="563.00" y="313.0" width="3.4" height="10.3" fill="#111"/>
<rect x="574.70" y="313.0" width="3.4" height="10.3" fill="#111"/>
<rect x="586.70" y="313.0" width="3.4" height="10.3" fill="#111"/>
<rect x="598.50" y="313.0" width="3.4" height="10.3" fill="#111"/>
<rect x="610.30" y="313.0" width="3.4" height="10.3" fill="#111"/>
<rect x="622.00" y="313.0" width="3.4" height="10.3" fill="#111"/>
<rect x="633.80" y="313.0" width="3.4" height="10.3" fill="#111"/>
<rect x="645.90" y="313.0" width="3.4" height="10.3" fill="#111"/>
<rect x="657.50" y="313.0" width="3.4" height="10.3" fill="#111"/>
<clipPath id="clip340"><rect x="0" y="0" width="908" height="313.1"/><rect x="690" y="312.5" width="68.4" height="11.1"/></clipPath>
<circle cx="731.3" cy="289.8" r="41.0" fill="#778a8d" clip-path="url(#clip340)"/>
<rect x="684.90" y="313.1" width="3.4" height="11.0" fill="#111"/>
<rect x="696.90" y="313.1" width="3.4" height="11.0" fill="#111"/>
<rect x="708.80" y="313.1" width="3.4" height="11.0" fill="#111"/>
<rect x="720.90" y="313.1" width="3.4" height="11.0" fill="#111"/>
<rect x="732.80" y="313.1" width="3.4" height="11.0" fill="#111"/>
<rect x="744.70" y="313.1" width="3.4" height="11.0" fill="#111"/>
<rect x="756.70" y="313.1" width="3.4" height="11.0" fill="#111"/>
<rect x="769.10" y="313.1" width="3.4" height="11.0" fill="#111"/>
<clipPath id="clip350"><rect x="0" y="0" width="908" height="313.0"/><rect x="813.8" y="312.5" width="61.3" height="10.9"/></clipPath>
<circle cx="845.1" cy="290.8" r="42.0" fill="#778a8d" clip-path="url(#clip350)"/>
<rect x="800.00" y="313.0" width="3.4" height="11.5" fill="#111"/>
<rect x="812.10" y="313.0" width="3.4" height="11.5" fill="#111"/>
<rect x="824.40" y="313.0" width="3.4" height="11.5" fill="#111"/>
<rect x="836.60" y="313.0" width="3.4" height="11.5" fill="#111"/>
<rect x="848.80" y="313.0" width="3.4" height="11.5" fill="#111"/>
<rect x="861.20" y="313.0" width="3.4" height="11.5" fill="#111"/>
<rect x="873.40" y="313.0" width="3.4" height="11.5" fill="#111"/>
<rect x="885.80" y="313.0" width="3.4" height="11.5" fill="#111"/>
<rect x="897.60" y="313.0" width="3.4" height="11.5" fill="#111"/>
<radialGradient id="blob1"><stop offset="0" stop-color="#a4aaaa" stop-opacity="0.8"/><stop offset="0.55" stop-color="#b4b8b8" stop-opacity="0.6"/><stop offset="1" stop-color="#d0d0d0" stop-opacity="0"/></radialGradient>
<rect x="487.6" y="134" width="74" height="71.5" fill="#f5f6f6"/>
<circle cx="524.2" cy="171" r="23" fill="url(#blob1)"/>
<rect x="488.30" y="135.10" width="3.0" height="3.0" fill="#000"/>
<rect x="496.89" y="135.10" width="3.0" height="3.0" fill="#000"/>
<rect x="505.48" y="135.10" width="3.0" height="3.0" fill="#000"/>
<rect x="514.06" y="135.10" width="3.0" height="3.0" fill="#000"/>
<rect x="522.65" y="135.10" width="3.0" height="3.0" fill="#000"/>
<rect x="531.24" y="135.10" width="3.0" height="3.0" fill="#000"/>
<rect x="539.83" y="135.10" width="3.0" height="3.0" fill="#000"/>
<rect x="548.41" y="135.10" width="3.0" height="3.0" fill="#000"/>
<rect x="557.00" y="135.10" width="3.0" height="3.0" fill="#000"/>
<rect x="488.30" y="143.38" width="3.0" height="3.0" fill="#000"/>
<rect x="496.89" y="143.38" width="3.0" height="3.0" fill="#000"/>
<rect x="505.48" y="143.38" width="3.0" height="3.0" fill="#000"/>
<rect x="514.06" y="143.38" width="3.0" height="3.0" fill="#000"/>
<rect x="522.65" y="143.38" width="3.0" height="3.0" fill="#000"/>
<rect x="531.24" y="143.38" width="3.0" height="3.0" fill="#000"/>
<rect x="539.83" y="143.38" width="3.0" height="3.0" fill="#000"/>
<rect x="548.41" y="143.38" width="3.0" height="3.0" fill="#000"/>
<rect x="557.00" y="143.38" width="3.0" height="3.0" fill="#000"/>
<rect x="488.30" y="151.65" width="3.0" height="3.0" fill="#000"/>
<rect x="496.89" y="151.65" width="3.0" height="3.0" fill="#000"/>
<rect x="505.48" y="151.65" width="3.0" height="3.0" fill="#000"/>
<rect x="514.06" y="151.65" width="3.0" height="3.0" fill="#000"/>
<rect x="522.65" y="151.65" width="3.0" height="3.0" fill="#000"/>
<rect x="531.24" y="151.65" width="3.0" height="3.0" fill="#000"/>
<rect x="539.83" y="151.65" width="3.0" height="3.0" fill="#000"/>
<rect x="548.41" y="151.65" width="3.0" height="3.0" fill="#000"/>
<rect x="557.00" y="151.65" width="3.0" height="3.0" fill="#000"/>
<rect x="488.30" y="159.93" width="3.0" height="3.0" fill="#000"/>
<rect x="496.89" y="159.93" width="3.0" height="3.0" fill="#000"/>
<rect x="505.48" y="159.93" width="3.0" height="3.0" fill="#000"/>
<rect x="514.06" y="159.93" width="3.0" height="3.0" fill="#000"/>
<rect x="522.65" y="159.93" width="3.0" height="3.0" fill="#000"/>
<rect x="531.24" y="159.93" width="3.0" height="3.0" fill="#000"/>
<rect x="539.83" y="159.93" width="3.0" height="3.0" fill="#000"/>
<rect x="548.41" y="159.93" width="3.0" height="3.0" fill="#000"/>
<rect x="557.00" y="159.93" width="3.0" height="3.0" fill="#000"/>
<rect x="488.30" y="168.20" width="3.0" height="3.0" fill="#000"/>
<rect x="496.89" y="168.20" width="3.0" height="3.0" fill="#000"/>
<rect x="505.48" y="168.20" width="3.0" height="3.0" fill="#000"/>
<rect x="514.06" y="168.20" width="3.0" height="3.0" fill="#000"/>
<rect x="522.65" y="168.20" width="3.0" height="3.0" fill="#000"/>
<rect x="531.24" y="168.20" width="3.0" height="3.0" fill="#000"/>
<rect x="539.83" y="168.20" width="3.0" height="3.0" fill="#000"/>
<rect x="548.41" y="168.20" width="3.0" height="3.0" fill="#000"/>
<rect x="557.00" y="168.20" width="3.0" height="3.0" fill="#000"/>
<rect x="488.30" y="176.48" width="3.0" height="3.0" fill="#000"/>
<rect x="496.89" y="176.48" width="3.0" height="3.0" fill="#000"/>
<rect x="505.48" y="176.48" width="3.0" height="3.0" fill="#000"/>
<rect x="514.06" y="176.48" width="3.0" height="3.0" fill="#000"/>
<rect x="522.65" y="176.48" width="3.0" height="3.0" fill="#000"/>
<rect x="531.24" y="176.48" width="3.0" height="3.0" fill="#000"/>
<rect x="539.83" y="176.48" width="3.0" height="3.0" fill="#000"/>
<rect x="548.41" y="176.48" width="3.0" height="3.0" fill="#000"/>
<rect x="557.00" y="176.48" width="3.0" height="3.0" fill="#000"/>
<rect x="488.30" y="184.75" width="3.0" height="3.0" fill="#000"/>
<rect x="496.89" y="184.75" width="3.0" height="3.0" fill="#000"/>
<rect x="505.48" y="184.75" width="3.0" height="3.0" fill="#000"/>
<rect x="514.06" y="184.75" width="3.0" height="3.0" fill="#000"/>
<rect x="522.65" y="184.75" width="3.0" height="3.0" fill="#000"/>
<rect x="531.24" y="184.75" width="3.0" height="3.0" fill="#000"/>
<rect x="539.83" y="184.75" width="3.0" height="3.0" fill="#000"/>
<rect x="548.41" y="184.75" width="3.0" height="3.0" fill="#000"/>
<rect x="557.00" y="184.75" width="3.0" height="3.0" fill="#000"/>
<rect x="488.30" y="193.03" width="3.0" height="3.0" fill="#000"/>
<rect x="496.89" y="193.03" width="3.0" height="3.0" fill="#000"/>
<rect x="505.48" y="193.03" width="3.0" height="3.0" fill="#000"/>
<rect x="514.06" y="193.03" width="3.0" height="3.0" fill="#000"/>
<rect x="522.65" y="193.03" width="3.0" height="3.0" fill="#000"/>
<rect x="531.24" y="193.03" width="3.0" height="3.0" fill="#000"/>
<rect x="539.83" y="193.03" width="3.0" height="3.0" fill="#000"/>
<rect x="548.41" y="193.03" width="3.0" height="3.0" fill="#000"/>
<rect x="557.00" y="193.03" width="3.0" height="3.0" fill="#000"/>
<rect x="488.30" y="201.30" width="3.0" height="3.0" fill="#000"/>
<rect x="496.89" y="201.30" width="3.0" height="3.0" fill="#000"/>
<rect x="505.48" y="201.30" width="3.0" height="3.0" fill="#000"/>
<rect x="514.06" y="201.30" width="3.0" height="3.0" fill="#000"/>
<rect x="522.65" y="201.30" width="3.0" height="3.0" fill="#000"/>
<rect x="531.24" y="201.30" width="3.0" height="3.0" fill="#000"/>
<rect x="539.83" y="201.30" width="3.0" height="3.0" fill="#000"/>
<rect x="548.41" y="201.30" width="3.0" height="3.0" fill="#000"/>
<rect x="557.00" y="201.30" width="3.0" height="3.0" fill="#000"/>
<linearGradient id="cb1" x1="0" y1="0" x2="0" y2="1"><stop offset="0" stop-color="#fcfcfc"/><stop offset="0.25" stop-color="#eeeeee"/><stop offset="0.43" stop-color="#9a9a9a"/><stop offset="0.58" stop-color="#151515"/><stop offset="1" stop-color="#000"/></linearGradient>
<rect x="576.6" y="132.1" width="6.1" height="75.2" fill="url(#cb1)" stroke="#bbb" stroke-width="0.4"/>
<radialGradient id="blob2"><stop offset="0" stop-color="#000"/><stop offset="0.18" stop-color="#111" stop-opacity="0.95"/><stop offset="0.38" stop-color="#555" stop-opacity="0.6"/><stop offset="0.65" stop-color="#aaa" stop-opacity="0.35"/><stop offset="1" stop-color="#ccc" stop-opacity="0"/></radialGradient>
<rect x="630.5" y="135" width="74" height="71" fill="#f6f7f7"/>
<circle cx="669.6" cy="167.3" r="20" fill="url(#blob2)"/>
<rect x="631.40" y="136.10" width="3.0" height="3.0" fill="#000"/>
<rect x="639.96" y="136.10" width="3.0" height="3.0" fill="#000"/>
<rect x="648.52" y="136.10" width="3.0" height="3.0" fill="#000"/>
<rect x="657.09" y="136.10" width="3.0" height="3.0" fill="#000"/>
<rect x="665.65" y="136.10" width="3.0" height="3.0" fill="#000"/>
<rect x="674.21" y="136.10" width="3.0" height="3.0" fill="#000"/>
<rect x="682.77" y="136.10" width="3.0" height="3.0" fill="#000"/>
<rect x="691.34" y="136.10" width="3.0" height="3.0" fill="#000"/>
<rect x="699.90" y="136.10" width="3.0" height="3.0" fill="#000"/>
<rect x="631.40" y="144.31" width="3.0" height="3.0" fill="#000"/>
<rect x="639.96" y="144.31" width="3.0" height="3.0" fill="#000"/>
<rect x="648.52" y="144.31" width="3.0" height="3.0" fill="#000"/>
<rect x="657.09" y="144.31" width="3.0" height="3.0" fill="#000"/>
<rect x="665.65" y="144.31" width="3.0" height="3.0" fill="#000"/>
<rect x="674.21" y="144.31" width="3.0" height="3.0" fill="#000"/>
<rect x="682.77" y="144.31" width="3.0" height="3.0" fill="#000"/>
<rect x="691.34" y="144.31" width="3.0" height="3.0" fill="#000"/>
<rect x="699.90" y="144.31" width="3.0" height="3.0" fill="#000"/>
<rect x="631.40" y="152.53" width="3.0" height="3.0" fill="#000"/>
<rect x="639.96" y="152.53" width="3.0" height="3.0" fill="#000"/>
<rect x="648.52" y="152.53" width="3.0" height="3.0" fill="#000"/>
<rect x="657.09" y="152.53" width="3.0" height="3.0" fill="#000"/>
<rect x="665.65" y="152.53" width="3.0" height="3.0" fill="#000"/>
<rect x="674.21" y="152.53" width="3.0" height="3.0" fill="#000"/>
<rect x="682.77" y="152.53" width="3.0" height="3.0" fill="#000"/>
<rect x="691.34" y="152.53" width="3.0" height="3.0" fill="#000"/>
<rect x="699.90" y="152.53" width="3.0" height="3.0" fill="#000"/>
<rect x="631.40" y="160.74" width="3.0" height="3.0" fill="#000"/>
<rect x="639.96" y="160.74" width="3.0" height="3.0" fill="#000"/>
<rect x="648.52" y="160.74" width="3.0" height="3.0" fill="#000"/>
<rect x="657.09" y="160.74" width="3.0" height="3.0" fill="#000"/>
<rect x="665.65" y="160.74" width="3.0" height="3.0" fill="#000"/>
<rect x="674.21" y="160.74" width="3.0" height="3.0" fill="#000"/>
<rect x="682.77" y="160.74" width="3.0" height="3.0" fill="#000"/>
<rect x="691.34" y="160.74" width="3.0" height="3.0" fill="#000"/>
<rect x="699.90" y="160.74" width="3.0" height="3.0" fill="#000"/>
<rect x="631.40" y="168.95" width="3.0" height="3.0" fill="#000"/>
<rect x="639.96" y="168.95" width="3.0" height="3.0" fill="#000"/>
<rect x="648.52" y="168.95" width="3.0" height="3.0" fill="#000"/>
<rect x="657.09" y="168.95" width="3.0" height="3.0" fill="#000"/>
<rect x="665.65" y="168.95" width="3.0" height="3.0" fill="#000"/>
<rect x="674.21" y="168.95" width="3.0" height="3.0" fill="#000"/>
<rect x="682.77" y="168.95" width="3.0" height="3.0" fill="#000"/>
<rect x="691.34" y="168.95" width="3.0" height="3.0" fill="#000"/>
<rect x="699.90" y="168.95" width="3.0" height="3.0" fill="#000"/>
<rect x="631.40" y="177.16" width="3.0" height="3.0" fill="#000"/>
<rect x="639.96" y="177.16" width="3.0" height="3.0" fill="#000"/>
<rect x="648.52" y="177.16" width="3.0" height="3.0" fill="#000"/>
<rect x="657.09" y="177.16" width="3.0" height="3.0" fill="#000"/>
<rect x="665.65" y="177.16" width="3.0" height="3.0" fill="#000"/>
<rect x="674.21" y="177.16" width="3.0" height="3.0" fill="#000"/>
<rect x="682.77" y="177.16" width="3.0" height="3.0" fill="#000"/>
<rect x="691.34" y="177.16" width="3.0" height="3.0" fill="#000"/>
<rect x="699.90" y="177.16" width="3.0" height="3.0" fill="#000"/>
<rect x="631.40" y="185.38" width="3.0" height="3.0" fill="#000"/>
<rect x="639.96" y="185.38" width="3.0" height="3.0" fill="#000"/>
<rect x="648.52" y="185.38" width="3.0" height="3.0" fill="#000"/>
<rect x="657.09" y="185.38" width="3.0" height="3.0" fill="#000"/>
<rect x="665.65" y="185.38" width="3.0" height="3.0" fill="#000"/>
<rect x="674.21" y="185.38" width="3.0" height="3.0" fill="#000"/>
<rect x="682.77" y="185.38" width="3.0" height="3.0" fill="#000"/>
<rect x="691.34" y="185.38" width="3.0" height="3.0" fill="#000"/>
<rect x="699.90" y="185.38" width="3.0" height="3.0" fill="#000"/>
<rect x="631.40" y="193.59" width="3.0" height="3.0" fill="#000"/>
<rect x="639.96" y="193.59" width="3.0" height="3.0" fill="#000"/>
<rect x="648.52" y="193.59" width="3.0" height="3.0" fill="#000"/>
<rect x="657.09" y="193.59" width="3.0" height="3.0" fill="#000"/>
<rect x="665.65" y="193.59" width="3.0" height="3.0" fill="#000"/>
<rect x="674.21" y="193.59" width="3.0" height="3.0" fill="#000"/>
<rect x="682.77" y="193.59" width="3.0" height="3.0" fill="#000"/>
<rect x="691.34" y="193.59" width="3.0" height="3.0" fill="#000"/>
<rect x="699.90" y="193.59" width="3.0" height="3.0" fill="#000"/>
<rect x="631.40" y="201.80" width="3.0" height="3.0" fill="#000"/>
<rect x="639.96" y="201.80" width="3.0" height="3.0" fill="#000"/>
<rect x="648.52" y="201.80" width="3.0" height="3.0" fill="#000"/>
<rect x="657.09" y="201.80" width="3.0" height="3.0" fill="#000"/>
<rect x="665.65" y="201.80" width="3.0" height="3.0" fill="#000"/>
<rect x="674.21" y="201.80" width="3.0" height="3.0" fill="#000"/>
<rect x="682.77" y="201.80" width="3.0" height="3.0" fill="#000"/>
<rect x="691.34" y="201.80" width="3.0" height="3.0" fill="#000"/>
<rect x="699.90" y="201.80" width="3.0" height="3.0" fill="#000"/>
<linearGradient id="cb2" x1="0" y1="0" x2="0" y2="1"><stop offset="0" stop-color="#fcfcfc"/><stop offset="0.25" stop-color="#eeeeee"/><stop offset="0.43" stop-color="#9a9a9a"/><stop offset="0.58" stop-color="#151515"/><stop offset="1" stop-color="#000"/></linearGradient>
<rect x="719.7" y="133.1" width="6.1" height="74.2" fill="url(#cb2)" stroke="#bbb" stroke-width="0.4"/>
<rect x="777.5" y="135" width="73" height="71" fill="#f6f7f7"/>
<rect x="778.30" y="136.10" width="3.0" height="3.0" fill="#000"/>
<rect x="786.84" y="136.10" width="3.0" height="3.0" fill="#000"/>
<rect x="795.38" y="136.10" width="3.0" height="3.0" fill="#000"/>
<rect x="803.91" y="136.10" width="3.0" height="3.0" fill="#000"/>
<rect x="812.45" y="136.10" width="3.0" height="3.0" fill="#000"/>
<rect x="820.99" y="136.10" width="3.0" height="3.0" fill="#000"/>
<rect x="829.52" y="136.10" width="3.0" height="3.0" fill="#000"/>
<rect x="838.06" y="136.10" width="3.0" height="3.0" fill="#000"/>
<rect x="846.60" y="136.10" width="3.0" height="3.0" fill="#000"/>
<rect x="778.30" y="144.31" width="3.0" height="3.0" fill="#000"/>
<rect x="786.84" y="144.31" width="3.0" height="3.0" fill="#000"/>
<rect x="795.38" y="144.31" width="3.0" height="3.0" fill="#000"/>
<rect x="803.91" y="144.31" width="3.0" height="3.0" fill="#000"/>
<rect x="812.45" y="144.31" width="3.0" height="3.0" fill="#000"/>
<rect x="820.99" y="144.31" width="3.0" height="3.0" fill="#000"/>
<rect x="829.52" y="144.31" width="3.0" height="3.0" fill="#000"/>
<rect x="838.06" y="144.31" width="3.0" height="3.0" fill="#000"/>
<rect x="846.60" y="144.31" width="3.0" height="3.0" fill="#000"/>
<rect x="778.30" y="152.53" width="3.0" height="3.0" fill="#000"/>
<rect x="786.84" y="152.53" width="3.0" height="3.0" fill="#000"/>
<rect x="795.38" y="152.53" width="3.0" height="3.0" fill="#000"/>
<rect x="803.91" y="152.53" width="3.0" height="3.0" fill="#000"/>
<rect x="812.45" y="152.53" width="3.0" height="3.0" fill="#000"/>
<rect x="820.99" y="152.53" width="3.0" height="3.0" fill="#000"/>
<rect x="829.52" y="152.53" width="3.0" height="3.0" fill="#000"/>
<rect x="838.06" y="152.53" width="3.0" height="3.0" fill="#000"/>
<rect x="846.60" y="152.53" width="3.0" height="3.0" fill="#000"/>
<rect x="778.30" y="160.74" width="3.0" height="3.0" fill="#000"/>
<rect x="786.84" y="160.74" width="3.0" height="3.0" fill="#000"/>
<rect x="795.38" y="160.74" width="3.0" height="3.0" fill="#000"/>
<rect x="803.91" y="160.74" width="3.0" height="3.0" fill="#000"/>
<rect x="812.45" y="160.74" width="3.0" height="3.0" fill="#000"/>
<rect x="820.99" y="160.74" width="3.0" height="3.0" fill="#000"/>
<rect x="829.52" y="160.74" width="3.0" height="3.0" fill="#000"/>
<rect x="838.06" y="160.74" width="3.0" height="3.0" fill="#000"/>
<rect x="846.60" y="160.74" width="3.0" height="3.0" fill="#000"/>
<rect x="778.30" y="168.95" width="3.0" height="3.0" fill="#000"/>
<rect x="786.84" y="168.95" width="3.0" height="3.0" fill="#000"/>
<rect x="795.38" y="168.95" width="3.0" height="3.0" fill="#000"/>
<rect x="803.91" y="168.95" width="3.0" height="3.0" fill="#000"/>
<rect x="812.45" y="168.95" width="3.0" height="3.0" fill="#000"/>
<rect x="820.99" y="168.95" width="3.0" height="3.0" fill="#000"/>
<rect x="829.52" y="168.95" width="3.0" height="3.0" fill="#000"/>
<rect x="838.06" y="168.95" width="3.0" height="3.0" fill="#000"/>
<rect x="846.60" y="168.95" width="3.0" height="3.0" fill="#000"/>
<rect x="778.30" y="177.16" width="3.0" height="3.0" fill="#000"/>
<rect x="786.84" y="177.16" width="3.0" height="3.0" fill="#000"/>
<rect x="795.38" y="177.16" width="3.0" height="3.0" fill="#000"/>
<rect x="803.91" y="177.16" width="3.0" height="3.0" fill="#000"/>
<rect x="812.45" y="177.16" width="3.0" height="3.0" fill="#000"/>
<rect x="820.99" y="177.16" width="3.0" height="3.0" fill="#000"/>
<rect x="829.52" y="177.16" width="3.0" height="3.0" fill="#000"/>
<rect x="838.06" y="177.16" width="3.0" height="3.0" fill="#000"/>
<rect x="846.60" y="177.16" width="3.0" height="3.0" fill="#000"/>
<rect x="778.30" y="185.38" width="3.0" height="3.0" fill="#000"/>
<rect x="786.84" y="185.38" width="3.0" height="3.0" fill="#000"/>
<rect x="795.38" y="185.38" width="3.0" height="3.0" fill="#000"/>
<rect x="803.91" y="185.38" width="3.0" height="3.0" fill="#000"/>
<rect x="812.45" y="185.38" width="3.0" height="3.0" fill="#000"/>
<rect x="820.99" y="185.38" width="3.0" height="3.0" fill="#000"/>
<rect x="829.52" y="185.38" width="3.0" height="3.0" fill="#000"/>
<rect x="838.06" y="185.38" width="3.0" height="3.0" fill="#000"/>
<rect x="846.60" y="185.38" width="3.0" height="3.0" fill="#000"/>
<rect x="778.30" y="193.59" width="3.0" height="3.0" fill="#000"/>
<rect x="786.84" y="193.59" width="3.0" height="3.0" fill="#000"/>
<rect x="795.38" y="193.59" width="3.0" height="3.0" fill="#000"/>
<rect x="803.91" y="193.59" width="3.0" height="3.0" fill="#000"/>
<rect x="812.45" y="193.59" width="3.0" height="3.0" fill="#000"/>
<rect x="820.99" y="193.59" width="3.0" height="3.0" fill="#000"/>
<rect x="829.52" y="193.59" width="3.0" height="3.0" fill="#000"/>
<rect x="838.06" y="193.59" width="3.0" height="3.0" fill="#000"/>
<rect x="846.60" y="193.59" width="3.0" height="3.0" fill="#000"/>
<rect x="778.30" y="201.80" width="3.0" height="3.0" fill="#000"/>
<rect x="786.84" y="201.80" width="3.0" height="3.0" fill="#000"/>
<rect x="795.38" y="201.80" width="3.0" height="3.0" fill="#000"/>
<rect x="803.91" y="201.80" width="3.0" height="3.0" fill="#000"/>
<rect x="812.45" y="201.80" width="3.0" height="3.0" fill="#000"/>
<rect x="820.99" y="201.80" width="3.0" height="3.0" fill="#000"/>
<rect x="829.52" y="201.80" width="3.0" height="3.0" fill="#000"/>
<rect x="838.06" y="201.80" width="3.0" height="3.0" fill="#000"/>
<rect x="846.60" y="201.80" width="3.0" height="3.0" fill="#000"/>
<rect x="796.5" y="153.5" width="36.2" height="34.1" rx="1.5" fill="#050505"/>
<linearGradient id="cb3" x1="0" y1="0" x2="0" y2="1"><stop offset="0" stop-color="#fcfcfc"/><stop offset="0.25" stop-color="#eeeeee"/><stop offset="0.43" stop-color="#9a9a9a"/><stop offset="0.58" stop-color="#151515"/><stop offset="1" stop-color="#000"/></linearGradient>
<rect x="866.2" y="133.1" width="6.1" height="74.2" fill="url(#cb3)" stroke="#bbb" stroke-width="0.4"/>
<rect x="585.3" y="146.6" width="1.6" height="1.6" fill="#c4c4c4"/>
<rect x="585.3" y="161.8" width="1.6" height="1.6" fill="#c4c4c4"/>
<rect x="585.3" y="176.6" width="1.6" height="1.6" fill="#c4c4c4"/>
<rect x="585.3" y="191.9" width="1.6" height="1.6" fill="#c4c4c4"/>
<rect x="728.4" y="147.2" width="1.6" height="1.6" fill="#c4c4c4"/>
<rect x="728.4" y="162.2" width="1.6" height="1.6" fill="#c4c4c4"/>
<rect x="728.4" y="177.2" width="1.6" height="1.6" fill="#c4c4c4"/>
<rect x="728.4" y="192.2" width="1.6" height="1.6" fill="#c4c4c4"/>
<rect x="874.9" y="147.2" width="1.6" height="1.6" fill="#c4c4c4"/>
<rect x="874.9" y="162.2" width="1.6" height="1.6" fill="#c4c4c4"/>
<rect x="874.9" y="177.2" width="1.6" height="1.6" fill="#c4c4c4"/>
<rect x="874.9" y="192.2" width="1.6" height="1.6" fill="#c4c4c4"/>
<rect x="493.6" y="345.2" width="34.4" height="100.6" fill="#c3cbcb"/>
<rect x="497.10" y="348.30" width="5.80" height="5.80" rx="2.1" fill="#000"/>
<rect x="508.80" y="348.30" width="5.80" height="5.80" rx="2.1" fill="#000"/>
<rect x="520.70" y="348.30" width="5.80" height="5.80" rx="2.1" fill="#000"/>
<rect x="497.10" y="359.60" width="5.80" height="5.80" rx="2.1" fill="#000"/>
<rect x="508.80" y="359.60" width="5.80" height="5.80" rx="2.1" fill="#000"/>
<rect x="520.70" y="359.60" width="5.80" height="5.80" rx="2.1" fill="#000"/>
<rect x="497.10" y="370.90" width="5.80" height="5.80" rx="2.1" fill="#000"/>
<rect x="508.80" y="370.90" width="5.80" height="5.80" rx="2.1" fill="#000"/>
<rect x="520.70" y="370.90" width="5.80" height="5.80" rx="2.1" fill="#000"/>
<rect x="497.10" y="382.20" width="5.80" height="5.80" rx="2.1" fill="#000"/>
<rect x="508.80" y="382.20" width="5.80" height="5.80" rx="2.1" fill="#000"/>
<rect x="520.70" y="382.20" width="5.80" height="5.80" rx="2.1" fill="#000"/>
<rect x="497.10" y="393.50" width="5.80" height="5.80" rx="2.1" fill="#000"/>
<rect x="508.80" y="393.50" width="5.80" height="5.80" rx="2.1" fill="#000"/>
<rect x="520.70" y="393.50" width="5.80" height="5.80" rx="2.1" fill="#000"/>
<rect x="497.10" y="404.80" width="5.80" height="5.80" rx="2.1" fill="#000"/>
<rect x="508.80" y="404.80" width="5.80" height="5.80" rx="2.1" fill="#000"/>
<rect x="520.70" y="404.80" width="5.80" height="5.80" rx="2.1" fill="#000"/>
<rect x="497.10" y="416.10" width="5.80" height="5.80" rx="2.1" fill="#000"/>
<rect x="508.80" y="416.10" width="5.80" height="5.80" rx="2.1" fill="#000"/>
<rect x="520.70" y="416.10" width="5.80" height="5.80" rx="2.1" fill="#000"/>
<rect x="497.10" y="427.40" width="5.80" height="5.80" rx="2.1" fill="#000"/>
<rect x="508.80" y="427.40" width="5.80" height="5.80" rx="2.1" fill="#000"/>
<rect x="520.70" y="427.40" width="5.80" height="5.80" rx="2.1" fill="#000"/>
<rect x="497.10" y="438.70" width="5.80" height="5.80" rx="2.1" fill="#000"/>
<rect x="508.80" y="438.70" width="5.80" height="5.80" rx="2.1" fill="#000"/>
<rect x="520.70" y="438.70" width="5.80" height="5.80" rx="2.1" fill="#000"/>
<path d="M527,372.4 L523,372.4 Q521,372.8 521,376 Q520.5,388 516.4,396 Q520.5,404 521,417 Q521,421.7 523,421.7 L527,421.7 Z" fill="#000"/>
<rect x="602.7" y="346.0" width="33.2" height="99.8" fill="#c3cbcb"/>
<rect x="605.40" y="349.10" width="5.80" height="5.80" rx="2.1" fill="#000"/>
<rect x="616.90" y="349.10" width="5.80" height="5.80" rx="2.1" fill="#000"/>
<rect x="628.60" y="349.10" width="5.80" height="5.80" rx="2.1" fill="#000"/>
<rect x="605.40" y="360.28" width="5.80" height="5.80" rx="2.1" fill="#000"/>
<rect x="616.90" y="360.28" width="5.80" height="5.80" rx="2.1" fill="#000"/>
<rect x="628.60" y="360.28" width="5.80" height="5.80" rx="2.1" fill="#000"/>
<rect x="605.40" y="371.45" width="5.80" height="5.80" rx="2.1" fill="#000"/>
<rect x="616.90" y="371.45" width="5.80" height="5.80" rx="2.1" fill="#000"/>
<rect x="628.60" y="371.45" width="5.80" height="5.80" rx="2.1" fill="#000"/>
<rect x="605.40" y="382.62" width="5.80" height="5.80" rx="2.1" fill="#000"/>
<rect x="616.90" y="382.62" width="5.80" height="5.80" rx="2.1" fill="#000"/>
<rect x="628.60" y="382.62" width="5.80" height="5.80" rx="2.1" fill="#000"/>
<rect x="605.40" y="393.80" width="5.80" height="5.80" rx="2.1" fill="#000"/>
<rect x="616.90" y="393.80" width="5.80" height="5.80" rx="2.1" fill="#000"/>
<rect x="628.60" y="393.80" width="5.80" height="5.80" rx="2.1" fill="#000"/>
<rect x="605.40" y="404.98" width="5.80" height="5.80" rx="2.1" fill="#000"/>
<rect x="616.90" y="404.98" width="5.80" height="5.80" rx="2.1" fill="#000"/>
<rect x="628.60" y="404.98" width="5.80" height="5.80" rx="2.1" fill="#000"/>
<rect x="605.40" y="416.15" width="5.80" height="5.80" rx="2.1" fill="#000"/>
<rect x="616.90" y="416.15" width="5.80" height="5.80" rx="2.1" fill="#000"/>
<rect x="628.60" y="416.15" width="5.80" height="5.80" rx="2.1" fill="#000"/>
<rect x="605.40" y="427.32" width="5.80" height="5.80" rx="2.1" fill="#000"/>
<rect x="616.90" y="427.32" width="5.80" height="5.80" rx="2.1" fill="#000"/>
<rect x="628.60" y="427.32" width="5.80" height="5.80" rx="2.1" fill="#000"/>
<rect x="605.40" y="438.50" width="5.80" height="5.80" rx="2.1" fill="#000"/>
<rect x="616.90" y="438.50" width="5.80" height="5.80" rx="2.1" fill="#000"/>
<rect x="628.60" y="438.50" width="5.80" height="5.80" rx="2.1" fill="#000"/>
<path d="M635,372.4 L629.5,372.4 Q626,373 624.5,377 Q623,381 620,382 Q616.5,383.5 617,386 Q617.5,389 621,391 Q617,393 617,396.7 Q617,400 621,402 Q617,404 617,407.7 Q617.5,411 621,413 Q624,415 626,418 Q627.5,420.7 629.5,420.7 L635,420.7 Z" fill="#000"/>
<rect x="716.4" y="344.8" width="35.1" height="101.0" fill="#c3cbcb"/>
<rect x="720.20" y="347.10" width="5.80" height="5.80" rx="2.1" fill="#000"/>
<rect x="731.80" y="347.10" width="5.80" height="5.80" rx="2.1" fill="#000"/>
<rect x="743.70" y="347.10" width="5.80" height="5.80" rx="2.1" fill="#000"/>
<rect x="720.20" y="358.54" width="5.80" height="5.80" rx="2.1" fill="#000"/>
<rect x="731.80" y="358.54" width="5.80" height="5.80" rx="2.1" fill="#000"/>
<rect x="743.70" y="358.54" width="5.80" height="5.80" rx="2.1" fill="#000"/>
<rect x="720.20" y="369.98" width="5.80" height="5.80" rx="2.1" fill="#000"/>
<rect x="731.80" y="369.98" width="5.80" height="5.80" rx="2.1" fill="#000"/>
<rect x="743.70" y="369.98" width="5.80" height="5.80" rx="2.1" fill="#000"/>
<rect x="720.20" y="381.41" width="5.80" height="5.80" rx="2.1" fill="#000"/>
<rect x="731.80" y="381.41" width="5.80" height="5.80" rx="2.1" fill="#000"/>
<rect x="743.70" y="381.41" width="5.80" height="5.80" rx="2.1" fill="#000"/>
<rect x="720.20" y="392.85" width="5.80" height="5.80" rx="2.1" fill="#000"/>
<rect x="731.80" y="392.85" width="5.80" height="5.80" rx="2.1" fill="#000"/>
<rect x="743.70" y="392.85" width="5.80" height="5.80" rx="2.1" fill="#000"/>
<rect x="720.20" y="404.29" width="5.80" height="5.80" rx="2.1" fill="#000"/>
<rect x="731.80" y="404.29" width="5.80" height="5.80" rx="2.1" fill="#000"/>
<rect x="743.70" y="404.29" width="5.80" height="5.80" rx="2.1" fill="#000"/>
<rect x="720.20" y="415.73" width="5.80" height="5.80" rx="2.1" fill="#000"/>
<rect x="731.80" y="415.73" width="5.80" height="5.80" rx="2.1" fill="#000"/>
<rect x="743.70" y="415.73" width="5.80" height="5.80" rx="2.1" fill="#000"/>
<rect x="720.20" y="427.16" width="5.80" height="5.80" rx="2.1" fill="#000"/>
<rect x="731.80" y="427.16" width="5.80" height="5.80" rx="2.1" fill="#000"/>
<rect x="743.70" y="427.16" width="5.80" height="5.80" rx="2.1" fill="#000"/>
<rect x="720.20" y="438.60" width="5.80" height="5.80" rx="2.1" fill="#000"/>
<rect x="731.80" y="438.60" width="5.80" height="5.80" rx="2.1" fill="#000"/>
<rect x="743.70" y="438.60" width="5.80" height="5.80" rx="2.1" fill="#000"/>
<path d="M750.6,370.3 L744.5,370.3 Q742,372 740.5,376 Q739,380 735,381 Q731.5,382.5 731.8,385 Q732,388 735.5,390 Q731.5,392.5 731.8,395.7 Q732,399 735.5,401 Q731.5,403.5 731.8,407 Q732,410 735.5,412 Q739,413.5 741,417 Q742.5,421 745,421.4 L750.6,421.4 Z" fill="#000"/>
<rect x="822.0" y="345.6" width="34.0" height="100.2" fill="#c3cbcb"/>
<rect x="824.90" y="348.10" width="5.80" height="5.80" rx="2.1" fill="#000"/>
<rect x="836.90" y="348.10" width="5.80" height="5.80" rx="2.1" fill="#000"/>
<rect x="848.30" y="348.10" width="5.80" height="5.80" rx="2.1" fill="#000"/>
<rect x="824.90" y="359.43" width="5.80" height="5.80" rx="2.1" fill="#000"/>
<rect x="836.90" y="359.43" width="5.80" height="5.80" rx="2.1" fill="#000"/>
<rect x="848.30" y="359.43" width="5.80" height="5.80" rx="2.1" fill="#000"/>
<rect x="824.90" y="370.75" width="5.80" height="5.80" rx="2.1" fill="#000"/>
<rect x="836.90" y="370.75" width="5.80" height="5.80" rx="2.1" fill="#000"/>
<rect x="848.30" y="370.75" width="5.80" height="5.80" rx="2.1" fill="#000"/>
<rect x="824.90" y="382.08" width="5.80" height="5.80" rx="2.1" fill="#000"/>
<rect x="836.90" y="382.08" width="5.80" height="5.80" rx="2.1" fill="#000"/>
<rect x="848.30" y="382.08" width="5.80" height="5.80" rx="2.1" fill="#000"/>
<rect x="824.90" y="393.40" width="5.80" height="5.80" rx="2.1" fill="#000"/>
<rect x="836.90" y="393.40" width="5.80" height="5.80" rx="2.1" fill="#000"/>
<rect x="848.30" y="393.40" width="5.80" height="5.80" rx="2.1" fill="#000"/>
<rect x="824.90" y="404.73" width="5.80" height="5.80" rx="2.1" fill="#000"/>
<rect x="836.90" y="404.73" width="5.80" height="5.80" rx="2.1" fill="#000"/>
<rect x="848.30" y="404.73" width="5.80" height="5.80" rx="2.1" fill="#000"/>
<rect x="824.90" y="416.05" width="5.80" height="5.80" rx="2.1" fill="#000"/>
<rect x="836.90" y="416.05" width="5.80" height="5.80" rx="2.1" fill="#000"/>
<rect x="848.30" y="416.05" width="5.80" height="5.80" rx="2.1" fill="#000"/>
<rect x="824.90" y="427.38" width="5.80" height="5.80" rx="2.1" fill="#000"/>
<rect x="836.90" y="427.38" width="5.80" height="5.80" rx="2.1" fill="#000"/>
<rect x="848.30" y="427.38" width="5.80" height="5.80" rx="2.1" fill="#000"/>
<rect x="824.90" y="438.70" width="5.80" height="5.80" rx="2.1" fill="#000"/>
<rect x="836.90" y="438.70" width="5.80" height="5.80" rx="2.1" fill="#000"/>
<rect x="848.30" y="438.70" width="5.80" height="5.80" rx="2.1" fill="#000"/>
<path d="M855,371.8 L852,371.5 Q850,370.5 848,371.8 Q846,373 844,371.8 Q842,370.5 840,371.8 Q837.5,372 837,375 Q838.5,378 837.2,381 L837.2,414 Q836,417 837,420 Q838,421.8 841,421.8 L855,421.8 Z" fill="#000"/>
<linearGradient id="cb4" x1="0" y1="0" x2="0" y2="1"><stop offset="0" stop-color="#fafafa"/><stop offset="0.3" stop-color="#e0e0e0"/><stop offset="0.45" stop-color="#707070"/><stop offset="0.62" stop-color="#101010"/><stop offset="1" stop-color="#000"/></linearGradient>
<rect x="862.1" y="345.7" width="3.6" height="101.1" fill="url(#cb4)" stroke="#bbb" stroke-width="0.3"/>
<line x1="31.8" y1="284.3" x2="227.3" y2="284.3" stroke="#6f7776" stroke-width="1.1"/>
<line x1="31.8" y1="284.3" x2="31.8" y2="433.3" stroke="#7f8786" stroke-width="1.3"/>
<line x1="31.8" y1="433.3" x2="227.3" y2="433.3" stroke="#9aa0a0" stroke-width="1"/>
<line x1="227" y1="284.3" x2="227" y2="433.3" stroke="#d4d6dc" stroke-width="0.8"/>
<text transform="translate(15.94,293.76) scale(1.03,1)" font-family="'Liberation Serif', serif" font-size="11.41" font-weight="bold" font-style="normal" fill="#000">1.6</text>
<text transform="translate(16.16,328.95) scale(0.99,1)" font-family="'Liberation Serif', serif" font-size="11.70" font-weight="bold" font-style="normal" fill="#000">1.2</text>
<text transform="translate(15.72,367.87) scale(1.24,1)" font-family="'Liberation Serif', serif" font-size="10.37" font-weight="bold" font-style="normal" fill="#000">0.8</text>
<text transform="translate(16.46,399.56) scale(1.06,1)" font-family="'Liberation Serif', serif" font-size="11.11" font-weight="bold" font-style="normal" fill="#000">0.4</text>
<text transform="translate(21.03,439.14) scale(1.21,1)" font-family="'Liberation Serif', serif" font-size="10.32" font-weight="bold" font-style="normal" fill="#000">0</text>
<text transform="translate(35.98,443.65) scale(0.93,1)" font-family="'Liberation Serif', serif" font-size="12.15" font-weight="bold" font-style="normal" fill="#000">0.12</text>
<text transform="translate(91.07,443.46) scale(1.04,1)" font-family="'Liberation Serif', serif" font-size="11.11" font-weight="bold" font-style="normal" fill="#000">0.14</text>
<text transform="translate(149.17,443.46) scale(1.04,1)" font-family="'Liberation Serif', serif" font-size="11.11" font-weight="bold" font-style="normal" fill="#000">0.16</text>
<text transform="translate(205.27,443.46) scale(1.04,1)" font-family="'Liberation Serif', serif" font-size="11.11" font-weight="bold" font-style="normal" fill="#000">0.18</text>
<text transform="translate(127.78,445.90) scale(0.91,1)" font-family="'Liberation Serif', serif" font-size="9.51" font-weight="bold" font-style="normal" fill="#000">h</text>
<text transform="translate(76.56,282.36) scale(1.05,1)" font-family="'Liberation Serif', serif" font-size="11.11" font-weight="bold" font-style="normal" fill="#000">0.2</text>
<text transform="translate(122.57,281.36) scale(0.92,1)" font-family="'Liberation Serif', serif" font-size="11.51" font-weight="bold" font-style="normal" fill="#000">V</text>
<text transform="translate(139.36,281.86) scale(1.02,1)" font-family="'Liberation Serif', serif" font-size="11.41" font-weight="bold" font-style="normal" fill="#000">0.24</text>
<text transform="translate(200.75,282.15) scale(1.03,1)" font-family="'Liberation Serif', serif" font-size="11.70" font-weight="bold" font-style="normal" fill="#000">0.28</text>
<text transform="translate(30.47,282.21)" font-family="'Liberation Serif', serif" font-size="9.70" font-weight="bold" font-style="normal" fill="#000">×</text>
<text transform="translate(36.41,282.04) scale(1.11,1)" font-family="'Liberation Serif', serif" font-size="9.87" font-weight="bold" font-style="normal" fill="#000">10</text>
<rect x="51.6" y="275" width="1.6" height="2.6" fill="#444"/>
<text transform="translate(20.2,349.75) rotate(-90) scale(0.75,1)" font-family="'Liberation Serif', serif" font-size="13" fill="#9a9aaa" text-anchor="middle">ΔV</text>
<circle cx="48.80" cy="337.70" r="1.0" fill="#b02828"/>
<circle cx="65.00" cy="332.70" r="1.0" fill="#b02828"/>
<circle cx="81.30" cy="327.80" r="1.0" fill="#b02828"/>
<circle cx="97.60" cy="323.40" r="1.0" fill="#b02828"/>
<circle cx="114.50" cy="319.00" r="1.0" fill="#b02828"/>
<circle cx="130.70" cy="314.90" r="1.0" fill="#b02828"/>
<circle cx="147.10" cy="311.50" r="1.0" fill="#b02828"/>
<circle cx="162.90" cy="307.60" r="1.0" fill="#b02828"/>
<circle cx="179.30" cy="304.10" r="1.0" fill="#b02828"/>
<circle cx="195.40" cy="301.00" r="1.0" fill="#b02828"/>
<circle cx="213.70" cy="297.80" r="1.0" fill="#b02828"/>
<circle cx="45.1" cy="432.2" r="1.7" fill="#c6c2de"/>
<circle cx="73.2" cy="416.1" r="1.7" fill="#c6c2de"/>
<circle cx="101.2" cy="396.8" r="1.7" fill="#c6c2de"/>
<circle cx="129.5" cy="374.6" r="1.7" fill="#c6c2de"/>
<circle cx="157.6" cy="351.5" r="1.7" fill="#c6c2de"/>
<circle cx="185.1" cy="325.4" r="1.7" fill="#c6c2de"/>
<line x1="245.8" y1="278.6" x2="445.7" y2="278.6" stroke="#c4c8cc" stroke-width="1"/>
<line x1="445.7" y1="278.6" x2="445.7" y2="431.2" stroke="#d0d2d8" stroke-width="1"/>
<line x1="245.8" y1="278.6" x2="245.8" y2="431.2" stroke="#a4a8aa" stroke-width="1"/>
<line x1="245.8" y1="431.2" x2="445.7" y2="431.2" stroke="#a8acae" stroke-width="1.1"/>
<text transform="translate(292.02,441.50) scale(0.76,1)" font-family="'Liberation Serif', serif" font-size="11.12" font-weight="bold" font-style="normal" fill="#000">1</text>
<text transform="translate(342.79,441.50) scale(0.91,1)" font-family="'Liberation Serif', serif" font-size="10.42" font-weight="bold" font-style="normal" fill="#000">2</text>
<text transform="translate(393.80,441.23) scale(0.96,1)" font-family="'Liberation Serif', serif" font-size="11.07" font-weight="bold" font-style="normal" fill="#000">3</text>
<text transform="translate(439.47,441.30) scale(0.95,1)" font-family="'Liberation Serif', serif" font-size="11.28" font-weight="bold" font-style="normal" fill="#000">4</text>
<text transform="translate(324.53,444.47) scale(1.29,1)" font-family="'Liberation Serif', serif" font-size="10.39" font-weight="bold" font-style="italic" fill="#000">a</text>
<text transform="translate(237.61,280.53) scale(1.08,1)" font-family="'Liberation Serif', serif" font-size="11.96" font-weight="bold" font-style="normal" fill="#000">3</text>
<text transform="translate(237.64,346.40)" font-family="'Liberation Serif', serif" font-size="12.83" font-weight="bold" font-style="normal" fill="#000">2</text>
<text transform="translate(237.75,389.50) scale(0.96,1)" font-family="'Liberation Serif', serif" font-size="12.19" font-weight="bold" font-style="normal" fill="#000">1</text>
<text transform="translate(237.23,435.63) scale(1.06,1)" font-family="'Liberation Serif', serif" font-size="11.81" font-weight="bold" font-style="normal" fill="#000">0</text>
<text transform="translate(246.99,276.28)" font-family="'Liberation Serif', serif" font-size="9.45" font-weight="bold" font-style="normal" fill="#000">×</text>
<text transform="translate(254.04,276.93) scale(0.92,1)" font-family="'Liberation Serif', serif" font-size="11.51" font-weight="bold" font-style="normal" fill="#000">10</text>
<text transform="translate(267.31,271.47)" font-family="'Liberation Serif', serif" font-size="4.93" font-weight="bold" font-style="normal" fill="#000">3</text>
<text transform="translate(235.4,352.5) rotate(-90)" font-family="'Liberation Serif', serif" font-size="8" font-weight="bold" fill="#333" text-anchor="middle">v</text>
<path d="M245.8,301.6 C262,302 276,300.8 285,298.6 C291,297 295,296.2 300.6,296" fill="none" stroke="#9090c8" stroke-width="1.2"/>
<path d="M301,296.2 L339.8,312" fill="none" stroke="#bcaebc" stroke-width="1.1" stroke-dasharray="1.4,2.2"/>
<path d="M336.7,311.8 L397.8,312.6" fill="none" stroke="#9896cc" stroke-width="1.2"/>
<path d="M399.5,312.6 L402.5,315.6 L412.5,337 L419.6,362.6 L426.7,385.3 L432.4,405.2 L439.5,422.3 L442.3,429.4" fill="none" stroke="#b8aabb" stroke-width="1.1" stroke-dasharray="1.4,2.2"/>
<text transform="translate(252.33,314.70)" font-family="'Liberation Sans', sans-serif" font-size="10.62" font-weight="normal" font-style="normal" fill="#1a1a1a">W</text>
<text transform="translate(261.86,316.20)" font-family="'Liberation Sans', sans-serif" font-size="8.58" font-weight="normal" font-style="normal" fill="#444">1</text>
<text transform="translate(293.18,292.73) scale(0.95,1)" font-family="'Liberation Sans', sans-serif" font-size="10.90" font-weight="normal" font-style="normal" fill="#1a1a1a">S</text>
<text transform="translate(299.68,295.70) scale(0.95,1)" font-family="'Liberation Sans', sans-serif" font-size="6.71" font-weight="normal" font-style="normal" fill="#444">2</text>
<text transform="translate(341.53,306.90) scale(0.92,1)" font-family="'Liberation Sans', sans-serif" font-size="12.65" font-weight="normal" font-style="normal" fill="#1a1a1a">W</text>
<text transform="translate(352.09,308.10) scale(0.95,1)" font-family="'Liberation Sans', sans-serif" font-size="6.43" font-weight="normal" font-style="normal" fill="#444">2</text>
<text transform="translate(393.19,307.63) scale(0.97,1)" font-family="'Liberation Sans', sans-serif" font-size="10.48" font-weight="normal" font-style="normal" fill="#1a1a1a">S</text>
<text transform="translate(399.64,311.35) scale(0.91,1)" font-family="'Liberation Sans', sans-serif" font-size="7.65" font-weight="normal" font-style="normal" fill="#444">3</text>
<text transform="translate(417.13,427.80) scale(1.01,1)" font-family="'Liberation Sans', sans-serif" font-size="11.05" font-weight="normal" font-style="normal" fill="#1a1a1a">W</text>
<text transform="translate(427.08,428.95) scale(0.79,1)" font-family="'Liberation Sans', sans-serif" font-size="7.50" font-weight="normal" font-style="normal" fill="#444">3</text>
</svg>
</body></html>
